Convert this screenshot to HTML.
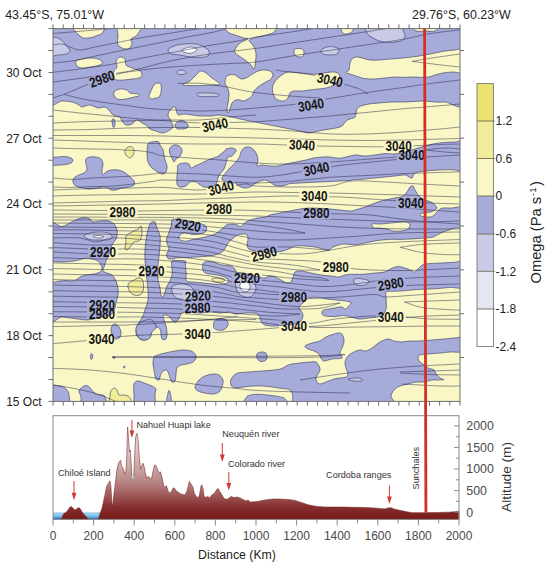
<!DOCTYPE html><html><head><meta charset="utf-8"><style>html,body{margin:0;padding:0;background:#fff;width:550px;height:566px;overflow:hidden}svg{position:absolute;left:0;top:0;font-family:"Liberation Sans",sans-serif}</style></head><body>
<svg width="550" height="566" viewBox="0 0 550 566">
<defs><clipPath id="pc"><rect x="53.0" y="28.6" width="407.0" height="372.8"/></clipPath>
<linearGradient id="tg" gradientUnits="userSpaceOnUse" x1="0" y1="425" x2="0" y2="519"><stop offset="0" stop-color="#efe6e6"/><stop offset="0.266" stop-color="#dcc6c6"/><stop offset="0.479" stop-color="#c8a2a2"/><stop offset="0.638" stop-color="#b47c7c"/><stop offset="0.766" stop-color="#9c5252"/><stop offset="0.872" stop-color="#862e2e"/><stop offset="1" stop-color="#781a1a"/></linearGradient>
<linearGradient id="wg" gradientUnits="userSpaceOnUse" x1="0" y1="512.7" x2="0" y2="519.3"><stop offset="0" stop-color="#4a86c8"/><stop offset="0.15" stop-color="#a8dcf0"/><stop offset="0.6" stop-color="#6ab6e6"/><stop offset="1" stop-color="#2e5aa8"/></linearGradient>
</defs>
<g clip-path="url(#pc)">
<rect x="53" y="28.6" width="407" height="372.79999999999995" fill="#faf7c6"/>
<path d="M45.0,20.6 C115.5,7.4 397.5,7.2 468.0,20.6 C538.5,34.0 471.8,87.4 468.0,101.0 C464.2,114.6 450.5,101.8 445.0,102.0 C439.5,102.2 438.3,102.2 435.0,102.0 C431.7,101.8 428.3,101.1 425.0,101.0 C421.7,100.9 418.7,101.2 415.0,101.4 C411.3,101.6 407.0,101.9 403.0,102.0 C399.0,102.1 395.0,101.8 391.0,102.0 C387.0,102.2 382.7,102.7 379.0,103.0 C375.3,103.3 372.0,103.5 369.0,104.0 C366.0,104.5 363.0,105.2 361.0,106.0 C359.0,106.8 358.0,107.2 357.0,109.0 C356.0,110.8 356.2,115.3 355.0,117.0 C353.8,118.7 351.5,118.3 350.0,119.0 C348.5,119.7 347.3,119.8 346.0,121.0 C344.7,122.2 343.7,124.8 342.0,126.0 C340.3,127.2 339.0,127.3 336.0,128.0 C333.0,128.7 327.7,129.3 324.0,130.0 C320.3,130.7 316.7,131.5 314.0,132.0 C311.3,132.5 310.3,133.2 308.0,133.0 C305.7,132.8 303.0,131.7 300.0,131.0 C297.0,130.3 293.3,129.7 290.0,129.0 C286.7,128.3 283.3,127.7 280.0,127.0 C276.7,126.3 273.3,125.7 270.0,125.0 C266.7,124.3 263.3,123.7 260.0,123.0 C256.7,122.3 253.3,121.7 250.0,121.0 C246.7,120.3 243.0,119.7 240.0,119.0 C237.0,118.3 234.3,117.5 232.0,117.0 C229.7,116.5 228.3,116.3 226.0,116.0 C223.7,115.7 220.3,115.0 218.0,115.0 C215.7,115.0 214.0,115.8 212.0,116.0 C210.0,116.2 208.0,116.0 206.0,116.0 C204.0,116.0 202.3,116.2 200.0,116.0 C197.7,115.8 194.7,115.3 192.0,115.0 C189.3,114.7 186.2,114.0 184.0,114.0 C181.8,114.0 180.2,115.2 179.0,115.0 C177.8,114.8 177.7,114.3 177.0,113.0 C176.3,111.7 176.0,107.7 175.0,107.0 C174.0,106.3 172.2,107.7 171.0,109.0 C169.8,110.3 168.0,113.0 168.0,115.0 C168.0,117.0 170.2,119.0 171.0,121.0 C171.8,123.0 173.5,125.3 173.0,127.0 C172.5,128.7 169.8,130.0 168.0,131.0 C166.2,132.0 164.0,133.0 162.0,133.0 C160.0,133.0 158.0,131.7 156.0,131.0 C154.0,130.3 151.7,130.0 150.0,129.0 C148.3,128.0 147.3,126.0 146.0,125.0 C144.7,124.0 143.3,123.8 142.0,123.0 C140.7,122.2 139.2,120.3 138.0,120.0 C136.8,119.7 136.0,120.3 135.0,121.0 C134.0,121.7 133.5,123.3 132.0,124.0 C130.5,124.7 127.7,125.5 126.0,125.0 C124.3,124.5 123.0,122.3 122.0,121.0 C121.0,119.7 121.0,117.8 120.0,117.0 C119.0,116.2 117.3,116.5 116.0,116.0 C114.7,115.5 113.3,115.2 112.0,114.0 C110.7,112.8 109.3,110.2 108.0,109.0 C106.7,107.8 105.7,107.2 104.0,107.0 C102.3,106.8 100.3,108.3 98.0,108.0 C95.7,107.7 92.7,105.2 90.0,105.0 C87.3,104.8 83.8,107.0 82.0,107.0 C80.2,107.0 80.7,105.8 79.0,105.0 C77.3,104.2 74.8,102.7 72.0,102.0 C69.2,101.3 66.5,101.3 62.0,101.0 C57.5,100.7 47.8,113.4 45.0,100.0 C42.2,86.6 -25.5,33.8 45.0,20.6Z" fill="#a7abd9" stroke="#3a3c66" stroke-width="0.85" stroke-opacity="0.75"/>
<path d="M175.0,125.0 C175.3,123.7 177.5,121.7 179.0,121.0 C180.5,120.3 182.5,120.3 184.0,121.0 C185.5,121.7 187.5,123.8 188.0,125.0 C188.5,126.2 188.0,127.3 187.0,128.0 C186.0,128.7 183.7,128.9 182.0,129.0 C180.3,129.1 178.2,129.3 177.0,128.6 C175.8,127.9 174.7,126.3 175.0,125.0Z" fill="#a7abd9" stroke="#3a3c66" stroke-width="0.85" stroke-opacity="0.75"/>
<path d="M112.0,120.0 C112.3,119.2 113.5,118.5 114.0,119.0 C114.5,119.5 114.9,121.7 115.0,123.0 C115.1,124.3 114.7,126.3 114.4,127.0 C114.1,127.7 113.3,127.5 113.0,127.0 C112.7,126.5 112.6,125.2 112.4,124.0 C112.2,122.8 111.7,120.8 112.0,120.0Z" fill="#a7abd9" stroke="#3a3c66" stroke-width="0.85" stroke-opacity="0.75"/>
<path d="M45.0,158.0 C47.2,156.7 54.8,157.3 58.0,157.0 C61.2,156.7 62.0,156.3 64.0,156.4 C66.0,156.5 68.5,157.0 70.0,157.6 C71.5,158.2 72.8,159.1 73.0,160.0 C73.2,160.9 72.2,162.3 71.0,163.0 C69.8,163.7 67.8,164.1 66.0,164.4 C64.2,164.7 63.5,164.9 60.0,165.0 C56.5,165.1 47.5,166.2 45.0,165.0 C42.5,163.8 42.8,159.3 45.0,158.0Z" fill="#a7abd9" stroke="#3a3c66" stroke-width="0.85" stroke-opacity="0.75"/>
<path d="M86.0,159.0 C86.7,157.8 88.3,157.3 90.0,157.0 C91.7,156.7 94.2,156.7 96.0,157.0 C97.8,157.3 99.8,157.8 101.0,159.0 C102.2,160.2 102.8,162.2 103.0,164.0 C103.2,165.8 102.0,168.2 102.0,170.0 C102.0,171.8 102.3,174.7 103.0,175.0 C103.7,175.3 104.7,172.8 106.0,172.0 C107.3,171.2 109.0,170.3 111.0,170.0 C113.0,169.7 115.8,169.7 118.0,170.0 C120.2,170.3 122.2,171.0 124.0,172.0 C125.8,173.0 127.3,174.5 129.0,176.0 C130.7,177.5 133.2,179.5 134.0,181.0 C134.8,182.5 134.8,184.0 134.0,185.0 C133.2,186.0 131.0,186.5 129.0,187.0 C127.0,187.5 124.2,187.5 122.0,188.0 C119.8,188.5 117.8,189.7 116.0,190.0 C114.2,190.3 112.3,190.3 111.0,190.0 C109.7,189.7 109.2,188.5 108.0,188.0 C106.8,187.5 105.7,187.0 104.0,187.0 C102.3,187.0 100.3,187.7 98.0,188.0 C95.7,188.3 92.5,189.0 90.0,189.0 C87.5,189.0 85.3,188.5 83.0,188.0 C80.7,187.5 77.7,187.0 76.0,186.0 C74.3,185.0 73.3,183.3 73.0,182.0 C72.7,180.7 73.0,179.2 74.0,178.0 C75.0,176.8 77.3,175.8 79.0,175.0 C80.7,174.2 82.7,174.0 84.0,173.0 C85.3,172.0 86.7,170.5 87.0,169.0 C87.3,167.5 86.2,165.7 86.0,164.0 C85.8,162.3 85.3,160.2 86.0,159.0Z" fill="#a7abd9" stroke="#3a3c66" stroke-width="0.85" stroke-opacity="0.75"/>
<path d="M148.0,144.0 C148.8,142.0 150.3,142.4 152.0,142.0 C153.7,141.6 156.7,141.1 158.0,141.6 C159.3,142.1 159.2,143.6 160.0,145.0 C160.8,146.4 162.2,147.5 163.0,150.0 C163.8,152.5 164.3,157.3 165.0,160.0 C165.7,162.7 166.8,164.0 167.0,166.0 C167.2,168.0 166.8,170.7 166.0,172.0 C165.2,173.3 163.7,174.2 162.0,174.0 C160.3,173.8 157.8,172.2 156.0,171.0 C154.2,169.8 152.3,168.5 151.0,167.0 C149.7,165.5 148.7,164.2 148.0,162.0 C147.3,159.8 147.0,157.0 147.0,154.0 C147.0,151.0 147.2,146.0 148.0,144.0Z" fill="#a7abd9" stroke="#3a3c66" stroke-width="0.85" stroke-opacity="0.75"/>
<path d="M170.0,148.0 C170.7,146.7 172.5,145.3 174.0,145.0 C175.5,144.7 177.7,145.2 179.0,146.0 C180.3,146.8 181.8,148.3 182.0,150.0 C182.2,151.7 181.0,154.5 180.0,156.0 C179.0,157.5 177.0,158.0 176.0,159.0 C175.0,160.0 174.7,162.2 174.0,162.0 C173.3,161.8 172.7,159.5 172.0,158.0 C171.3,156.5 169.9,154.7 169.6,153.0 C169.3,151.3 169.3,149.3 170.0,148.0Z" fill="#a7abd9" stroke="#3a3c66" stroke-width="0.85" stroke-opacity="0.75"/>
<path d="M178.0,165.0 C179.1,163.8 182.2,163.2 184.0,163.0 C185.8,162.8 187.8,163.2 189.0,164.0 C190.2,164.8 190.0,167.7 191.0,168.0 C192.0,168.3 193.2,166.8 195.0,166.0 C196.8,165.2 199.5,164.2 202.0,163.0 C204.5,161.8 207.5,160.0 210.0,159.0 C212.5,158.0 215.0,158.0 217.0,157.0 C219.0,156.0 220.5,154.2 222.0,153.0 C223.5,151.8 225.3,150.7 226.0,150.0 C226.7,149.3 225.2,149.3 226.0,149.0 C226.8,148.7 229.5,148.0 231.0,148.0 C232.5,148.0 234.2,148.5 235.0,149.0 C235.8,149.5 236.5,149.8 236.0,151.0 C235.5,152.2 233.3,155.0 232.0,156.0 C230.7,157.0 229.0,155.8 228.0,157.0 C227.0,158.2 226.7,161.0 226.0,163.0 C225.3,165.0 225.0,167.2 224.0,169.0 C223.0,170.8 221.0,172.5 220.0,174.0 C219.0,175.5 218.7,176.3 218.0,178.0 C217.3,179.7 217.3,182.5 216.0,184.0 C214.7,185.5 212.0,186.5 210.0,187.0 C208.0,187.5 205.8,187.5 204.0,187.0 C202.2,186.5 200.3,184.8 199.0,184.0 C197.7,183.2 197.5,182.3 196.0,182.0 C194.5,181.7 191.7,181.3 190.0,182.0 C188.3,182.7 187.7,185.2 186.0,186.0 C184.3,186.8 181.5,187.3 180.0,187.0 C178.5,186.7 177.5,185.8 177.0,184.0 C176.5,182.2 176.9,178.3 177.0,176.0 C177.1,173.7 177.4,171.8 177.6,170.0 C177.8,168.2 176.9,166.2 178.0,165.0Z" fill="#a7abd9" stroke="#3a3c66" stroke-width="0.85" stroke-opacity="0.75"/>
<path d="M222.0,178.0 C222.7,176.2 226.0,172.3 228.0,170.0 C230.0,167.7 232.2,166.0 234.0,164.0 C235.8,162.0 237.8,160.0 239.0,158.0 C240.2,156.0 240.2,153.7 241.0,152.0 C241.8,150.3 242.7,148.8 244.0,148.0 C245.3,147.2 247.3,146.7 249.0,147.0 C250.7,147.3 252.7,148.7 254.0,150.0 C255.3,151.3 256.3,153.3 257.0,155.0 C257.7,156.7 258.0,158.2 258.0,160.0 C258.0,161.8 256.3,165.2 257.0,166.0 C257.7,166.8 259.8,165.0 262.0,165.0 C264.2,165.0 267.3,165.8 270.0,166.0 C272.7,166.2 275.3,166.3 278.0,166.0 C280.7,165.7 283.0,164.7 286.0,164.0 C289.0,163.3 292.7,162.7 296.0,162.0 C299.3,161.3 303.0,160.7 306.0,160.0 C309.0,159.3 311.3,158.5 314.0,158.0 C316.7,157.5 319.3,157.2 322.0,157.0 C324.7,156.8 327.7,156.8 330.0,157.0 C332.3,157.2 334.0,157.8 336.0,158.0 C338.0,158.2 339.7,158.3 342.0,158.0 C344.3,157.7 347.7,156.5 350.0,156.0 C352.3,155.5 353.5,155.0 356.0,155.0 C358.5,155.0 361.8,156.0 365.0,156.0 C368.2,156.0 371.7,155.4 375.0,155.0 C378.3,154.6 381.7,153.8 385.0,153.6 C388.3,153.4 391.7,154.3 395.0,154.0 C398.3,153.7 401.7,152.8 405.0,152.0 C408.3,151.2 411.7,150.0 415.0,149.0 C418.3,148.0 421.7,146.9 425.0,146.0 C428.3,145.1 431.7,144.2 435.0,143.6 C438.3,143.0 441.7,142.7 445.0,142.4 C448.3,142.1 451.2,142.1 455.0,142.0 C458.8,141.9 465.8,137.1 468.0,141.6 C470.2,146.1 470.8,164.3 468.0,169.0 C465.2,173.7 455.8,169.4 451.0,169.6 C446.2,169.8 443.3,169.8 439.0,170.0 C434.7,170.2 429.0,170.5 425.0,171.0 C421.0,171.5 417.2,171.8 415.0,173.0 C412.8,174.2 413.0,177.3 412.0,178.0 C411.0,178.7 410.2,177.5 409.0,177.0 C407.8,176.5 407.3,175.2 405.0,175.0 C402.7,174.8 398.3,175.7 395.0,176.0 C391.7,176.3 388.3,176.7 385.0,177.0 C381.7,177.3 378.3,177.7 375.0,178.0 C371.7,178.3 368.3,178.7 365.0,179.0 C361.7,179.3 357.5,179.4 355.0,179.6 C352.5,179.8 352.5,180.2 350.0,180.4 C347.5,180.6 343.3,180.8 340.0,181.0 C336.7,181.2 333.3,181.4 330.0,181.6 C326.7,181.8 323.3,181.9 320.0,182.0 C316.7,182.1 313.3,182.2 310.0,182.4 C306.7,182.6 303.3,182.8 300.0,183.0 C296.7,183.2 292.3,183.3 290.0,183.6 C287.7,183.9 287.7,184.6 286.0,185.0 C284.3,185.4 282.0,186.0 280.0,186.0 C278.0,186.0 275.7,185.7 274.0,185.0 C272.3,184.3 271.7,182.8 270.0,182.0 C268.3,181.2 266.3,179.8 264.0,180.0 C261.7,180.2 258.3,181.8 256.0,183.0 C253.7,184.2 252.0,186.2 250.0,187.0 C248.0,187.8 245.8,188.2 244.0,188.0 C242.2,187.8 240.5,186.8 239.0,186.0 C237.5,185.2 236.3,183.5 235.0,183.0 C233.7,182.5 232.8,183.3 231.0,183.0 C229.2,182.7 225.5,181.8 224.0,181.0 C222.5,180.2 221.3,179.8 222.0,178.0Z" fill="#a7abd9" stroke="#3a3c66" stroke-width="0.85" stroke-opacity="0.75"/>
<path d="M45.0,228.5 C47.8,213.6 57.8,227.4 62.0,226.5 C66.2,225.6 67.3,224.2 70.0,223.0 C72.7,221.8 75.5,219.9 78.0,219.0 C80.5,218.1 83.0,217.6 85.0,217.6 C87.0,217.6 88.7,218.3 90.0,219.0 C91.3,219.7 91.3,221.7 93.0,222.0 C94.7,222.3 97.5,221.2 100.0,221.0 C102.5,220.8 105.7,220.5 108.0,221.0 C110.3,221.5 112.5,222.5 114.0,224.0 C115.5,225.5 116.5,228.2 117.0,230.0 C117.5,231.8 117.2,233.5 117.0,235.0 C116.8,236.5 116.8,237.3 116.0,239.0 C115.2,240.7 113.0,243.0 112.0,245.0 C111.0,247.0 110.7,249.0 110.0,251.0 C109.3,253.0 108.7,255.3 108.0,257.0 C107.3,258.7 106.7,259.3 106.0,261.0 C105.3,262.7 104.5,265.3 104.0,267.0 C103.5,268.7 102.5,270.0 103.0,271.0 C103.5,272.0 105.5,272.3 107.0,273.0 C108.5,273.7 110.5,273.7 112.0,275.0 C113.5,276.3 115.0,278.7 116.0,281.0 C117.0,283.3 117.7,286.7 118.0,289.0 C118.3,291.3 118.3,292.7 118.0,295.0 C117.7,297.3 116.7,300.3 116.0,303.0 C115.3,305.7 115.0,309.0 114.0,311.0 C113.0,313.0 112.0,314.0 110.0,315.0 C108.0,316.0 104.7,316.3 102.0,317.0 C99.3,317.7 96.7,318.5 94.0,319.0 C91.3,319.5 88.7,320.0 86.0,320.0 C83.3,320.0 80.7,319.3 78.0,319.0 C75.3,318.7 72.7,318.3 70.0,318.0 C67.3,317.7 66.2,317.3 62.0,317.0 C57.8,316.7 47.8,330.8 45.0,316.0 C42.2,301.2 42.2,243.4 45.0,228.5Z" fill="#a7abd9" stroke="#3a3c66" stroke-width="0.85" stroke-opacity="0.75"/>
<path d="M171.5,221.5 C172.0,220.5 172.5,219.2 174.7,219.0 C176.9,218.8 180.9,219.4 184.5,220.0 C188.1,220.6 192.8,221.6 196.0,222.4 C199.2,223.2 202.2,223.9 204.0,224.8 C205.8,225.7 206.3,226.9 206.6,228.0 C206.9,229.1 206.7,230.4 205.8,231.4 C204.9,232.4 202.9,233.3 201.0,233.8 C199.1,234.3 196.3,234.6 194.4,234.6 C192.5,234.6 191.2,234.1 189.5,233.8 C187.8,233.5 186.0,232.9 184.5,233.0 C183.0,233.1 181.4,233.8 180.5,234.6 C179.6,235.4 178.7,237.0 178.8,238.0 C178.9,239.0 180.1,239.9 181.3,240.4 C182.5,240.9 184.3,241.3 186.2,241.2 C188.1,241.0 190.2,240.1 192.7,239.5 C195.2,238.9 198.5,238.4 201.0,237.9 C203.5,237.4 205.3,236.9 207.5,236.3 C209.7,235.8 212.1,235.4 214.0,234.6 C215.9,233.8 217.4,232.6 219.0,231.4 C220.6,230.2 222.5,228.4 223.8,227.3 C225.1,226.2 225.6,225.4 227.0,224.8 C228.4,224.2 230.3,224.0 232.0,224.0 C233.7,224.0 235.6,224.4 237.0,224.8 C238.4,225.2 239.1,226.6 240.2,226.5 C241.3,226.4 242.4,224.8 243.5,224.0 C244.6,223.2 245.6,222.2 246.7,221.5 C247.8,220.8 248.1,220.6 250.0,220.0 C251.9,219.4 255.3,218.5 258.0,218.0 C260.7,217.5 264.0,217.5 266.0,217.0 C268.0,216.5 267.7,215.7 270.0,215.0 C272.3,214.3 276.7,213.7 280.0,213.0 C283.3,212.3 286.7,211.7 290.0,211.0 C293.3,210.3 296.7,209.5 300.0,209.0 C303.3,208.5 306.7,208.1 310.0,208.0 C313.3,207.9 316.7,208.2 320.0,208.4 C323.3,208.6 326.7,208.7 330.0,209.0 C333.3,209.3 336.7,209.7 340.0,210.0 C343.3,210.3 347.5,211.0 350.0,211.0 C352.5,211.0 352.5,210.7 355.0,210.0 C357.5,209.3 361.7,208.2 365.0,207.0 C368.3,205.8 371.7,204.2 375.0,203.0 C378.3,201.8 381.7,200.8 385.0,200.0 C388.3,199.2 392.0,198.7 395.0,198.0 C398.0,197.3 401.0,197.0 403.0,196.0 C405.0,195.0 405.8,193.5 407.0,192.0 C408.2,190.5 409.0,188.0 410.0,187.0 C411.0,186.0 412.2,185.5 413.0,186.0 C413.8,186.5 414.0,188.3 415.0,190.0 C416.0,191.7 417.3,194.3 419.0,196.0 C420.7,197.7 423.0,199.0 425.0,200.0 C427.0,201.0 429.3,201.2 431.0,202.0 C432.7,202.8 434.0,204.0 435.0,205.0 C436.0,206.0 437.0,207.2 437.0,208.0 C437.0,208.8 436.0,209.3 435.0,210.0 C434.0,210.7 432.3,211.6 431.0,212.0 C429.7,212.4 428.3,212.2 427.0,212.4 C425.7,212.6 424.2,212.7 423.0,213.0 C421.8,213.3 420.3,213.5 420.0,214.0 C419.7,214.5 419.8,215.5 421.0,216.0 C422.2,216.5 425.0,217.0 427.0,217.0 C429.0,217.0 431.0,217.2 433.0,216.0 C435.0,214.8 437.3,211.3 439.0,210.0 C440.7,208.7 441.0,208.3 443.0,208.0 C445.0,207.7 446.8,208.1 451.0,208.0 C455.2,207.9 465.2,204.6 468.0,207.6 C470.8,210.6 470.2,222.6 468.0,226.0 C465.8,229.4 458.2,227.3 455.0,228.0 C451.8,228.7 451.0,229.3 449.0,230.0 C447.0,230.7 444.7,231.3 443.0,232.0 C441.3,232.7 440.3,233.3 439.0,234.0 C437.7,234.7 436.2,235.5 435.0,236.0 C433.8,236.5 434.3,236.8 432.0,237.2 C429.7,237.6 425.0,238.0 421.4,238.3 C417.8,238.6 414.1,238.8 410.5,239.0 C406.9,239.2 403.1,239.3 399.5,239.4 C395.9,239.5 392.2,239.2 388.6,239.4 C385.0,239.6 381.3,240.0 377.7,240.5 C374.1,241.0 370.4,241.9 366.8,242.6 C363.2,243.3 359.6,244.6 356.0,244.8 C352.4,245.0 347.8,244.0 345.0,244.0 C342.2,244.0 341.0,244.5 339.0,245.0 C337.0,245.5 334.7,246.2 333.0,247.0 C331.3,247.8 330.7,249.7 329.0,250.0 C327.3,250.3 325.3,249.5 323.0,249.0 C320.7,248.5 318.0,247.5 315.0,247.0 C312.0,246.5 308.3,246.2 305.0,246.0 C301.7,245.8 297.3,245.7 295.0,246.0 C292.7,246.3 293.0,247.2 291.0,248.0 C289.0,248.8 285.7,250.3 283.0,251.0 C280.3,251.7 278.0,251.8 275.0,252.0 C272.0,252.2 268.3,252.2 265.0,252.0 C261.7,251.8 257.7,251.5 255.0,251.0 C252.3,250.5 250.3,250.0 249.0,249.0 C247.7,248.0 247.2,246.7 247.0,245.0 C246.8,243.3 248.0,240.7 248.0,239.0 C248.0,237.3 247.5,235.8 247.0,235.0 C246.5,234.2 246.4,234.1 245.0,234.0 C243.6,233.9 240.5,233.9 238.6,234.6 C236.7,235.2 235.2,236.7 233.6,237.9 C231.9,239.1 230.0,240.4 228.7,242.0 C227.3,243.6 226.6,246.1 225.5,247.7 C224.4,249.3 223.6,250.7 222.2,251.8 C220.8,252.9 219.5,253.6 217.3,254.3 C215.1,255.0 211.7,255.6 209.0,256.0 C206.3,256.4 203.7,256.5 201.0,256.7 C198.3,256.9 195.4,257.0 192.7,257.2 C189.9,257.4 187.2,257.5 184.5,257.6 C181.8,257.7 178.5,257.7 176.4,257.9 C174.3,258.1 173.2,258.8 172.0,259.0 C170.8,259.2 169.8,259.2 169.0,259.0 C168.2,258.8 167.8,258.4 167.4,257.6 C167.0,256.8 166.4,255.4 166.5,254.3 C166.6,253.2 167.8,252.1 168.2,251.0 C168.6,249.9 169.1,248.8 169.0,247.7 C168.9,246.6 167.8,245.9 167.4,244.5 C167.0,243.1 166.4,241.2 166.5,239.5 C166.6,237.8 167.6,236.2 168.2,234.6 C168.8,233.0 169.2,231.3 169.8,229.7 C170.4,228.1 171.2,226.2 171.5,224.8 C171.8,223.4 171.0,222.5 171.5,221.5Z" fill="#a7abd9" stroke="#3a3c66" stroke-width="0.85" stroke-opacity="0.75"/>
<path d="M148.0,300.0 C148.5,296.7 148.2,293.3 148.0,290.0 C147.8,286.7 147.3,283.3 147.0,280.0 C146.7,276.7 146.3,273.3 146.0,270.0 C145.7,266.7 145.2,263.3 145.0,260.0 C144.8,256.7 144.8,253.3 145.0,250.0 C145.2,246.7 145.5,243.3 146.0,240.0 C146.5,236.7 147.3,232.7 148.0,230.0 C148.7,227.3 149.3,225.3 150.0,224.0 C150.7,222.7 151.2,222.3 152.0,222.0 C152.8,221.7 154.2,221.0 155.0,222.0 C155.8,223.0 156.2,225.7 157.0,228.0 C157.8,230.3 159.5,233.0 160.0,236.0 C160.5,239.0 160.2,242.7 160.0,246.0 C159.8,249.3 159.3,252.8 159.0,256.0 C158.7,259.2 158.2,262.3 158.0,265.0 C157.8,267.7 158.0,269.5 158.0,272.0 C158.0,274.5 157.7,277.3 158.0,280.0 C158.3,282.7 159.5,285.5 160.0,288.0 C160.5,290.5 160.5,293.5 161.0,295.0 C161.5,296.5 162.3,297.5 163.0,297.0 C163.7,296.5 164.3,293.8 165.0,292.0 C165.7,290.2 166.2,287.8 167.0,286.0 C167.8,284.2 169.2,282.8 170.0,281.0 C170.8,279.2 171.7,277.2 172.0,275.0 C172.3,272.8 172.0,270.3 172.0,268.0 C172.0,265.7 170.8,262.2 172.0,261.0 C173.2,259.8 176.8,260.5 179.0,260.5 C181.2,260.5 184.3,260.4 185.4,261.0 C186.5,261.6 185.3,261.8 185.4,264.0 C185.5,266.2 186.1,271.7 186.2,274.5 C186.3,277.3 185.1,279.8 186.2,281.0 C187.3,282.2 190.2,281.7 192.7,282.0 C195.2,282.3 198.3,282.4 201.0,282.7 C203.7,283.0 206.3,283.3 209.0,283.6 C211.7,283.9 214.6,284.4 217.3,284.4 C220.1,284.4 223.6,284.2 225.5,283.6 C227.4,283.0 228.7,282.0 228.7,281.0 C228.7,280.0 226.6,278.6 225.5,277.8 C224.4,277.0 224.1,276.8 222.2,276.2 C220.3,275.6 216.4,274.9 214.0,274.5 C211.6,274.1 209.3,274.2 207.5,273.7 C205.7,273.2 204.2,272.5 203.4,271.3 C202.6,270.1 202.6,267.8 202.6,266.4 C202.6,265.0 202.6,263.8 203.4,263.0 C204.2,262.2 205.7,261.6 207.5,261.5 C209.3,261.4 211.8,261.8 214.0,262.3 C216.2,262.8 218.4,264.2 220.6,264.7 C222.8,265.2 225.1,265.2 227.0,265.5 C228.9,265.8 230.6,265.7 232.0,266.4 C233.4,267.1 234.5,268.5 235.3,269.6 C236.1,270.7 235.7,272.4 237.0,273.0 C238.3,273.6 240.7,272.7 243.0,273.0 C245.3,273.3 248.3,274.3 251.0,275.0 C253.7,275.7 256.7,276.5 259.0,277.0 C261.3,277.5 263.3,278.2 265.0,278.0 C266.7,277.8 267.3,276.2 269.0,276.0 C270.7,275.8 273.0,276.3 275.0,277.0 C277.0,277.7 279.0,279.0 281.0,280.0 C283.0,281.0 285.3,282.7 287.0,283.0 C288.7,283.3 290.0,283.0 291.0,282.0 C292.0,281.0 292.3,278.7 293.0,277.0 C293.7,275.3 293.7,273.0 295.0,272.0 C296.3,271.0 298.3,270.8 301.0,271.0 C303.7,271.2 307.7,272.3 311.0,273.0 C314.3,273.7 317.7,274.5 321.0,275.0 C324.3,275.5 328.0,275.7 331.0,276.0 C334.0,276.3 336.7,277.2 339.0,277.0 C341.3,276.8 342.9,275.4 345.0,275.0 C347.1,274.6 348.6,274.4 351.5,274.3 C354.4,274.2 358.9,274.5 362.5,274.3 C366.1,274.1 369.8,273.6 373.4,273.2 C377.0,272.8 381.4,272.8 384.3,272.1 C387.2,271.4 388.6,269.7 390.8,268.8 C393.0,267.9 395.2,266.8 397.4,266.6 C399.6,266.4 401.7,267.1 403.9,267.7 C406.1,268.3 408.7,269.3 410.5,270.0 C412.3,270.7 413.4,272.5 414.8,272.1 C416.2,271.7 417.7,269.0 419.2,267.7 C420.7,266.4 421.4,265.2 423.6,264.5 C425.8,263.8 429.0,263.6 432.3,263.4 C435.6,263.1 439.6,263.2 443.2,263.0 C446.8,262.8 450.0,262.4 454.1,262.3 C458.2,262.2 465.7,258.3 468.0,262.3 C470.3,266.3 471.1,282.1 468.0,286.3 C464.9,290.5 454.6,287.0 449.7,287.4 C444.8,287.8 442.4,288.2 438.8,288.5 C435.2,288.8 431.5,288.9 427.9,289.1 C424.3,289.3 420.6,289.2 417.0,289.5 C413.4,289.8 409.7,290.3 406.1,290.6 C402.5,290.9 398.5,291.1 395.2,291.3 C391.9,291.5 388.0,290.6 386.5,291.7 C385.0,292.8 386.0,295.7 386.0,298.0 C386.0,300.3 386.5,303.3 386.4,305.5 C386.3,307.7 386.3,309.3 385.5,311.0 C384.7,312.7 383.3,314.4 381.8,315.5 C380.3,316.6 378.5,316.9 376.4,317.3 C374.3,317.7 371.7,317.7 369.0,318.0 C366.3,318.3 362.4,319.0 360.0,319.0 C357.6,319.0 356.3,318.4 354.5,318.0 C352.7,317.6 350.8,316.8 349.0,316.4 C347.2,316.0 345.7,315.5 343.6,315.5 C341.5,315.5 338.8,316.2 336.4,316.4 C334.0,316.5 331.1,316.5 329.0,316.4 C326.9,316.2 324.8,316.1 323.6,315.5 C322.4,314.9 321.8,313.6 321.8,312.7 C321.8,311.8 322.4,310.6 323.6,310.0 C324.8,309.4 327.2,309.3 329.0,309.0 C330.8,308.7 332.8,308.3 334.5,308.0 C336.2,307.7 337.6,307.1 339.0,307.0 C340.4,306.9 341.6,307.0 342.7,307.3 C343.8,307.6 344.4,309.3 345.5,309.0 C346.6,308.7 348.1,306.6 349.0,305.5 C349.9,304.4 351.6,303.4 351.0,302.7 C350.4,301.9 348.0,301.4 345.5,301.0 C343.0,300.6 339.1,300.3 336.0,300.0 C332.9,299.7 330.0,299.4 327.0,299.0 C324.0,298.6 321.0,297.5 318.0,297.3 C315.0,297.1 311.5,297.1 309.0,298.0 C306.5,298.9 304.7,301.5 303.0,303.0 C301.3,304.5 299.3,305.7 299.0,307.0 C298.7,308.3 300.3,309.7 301.0,311.0 C301.7,312.3 303.0,313.3 303.0,315.0 C303.0,316.7 302.3,319.5 301.0,321.0 C299.7,322.5 297.7,323.3 295.0,324.0 C292.3,324.7 288.3,324.7 285.0,325.0 C281.7,325.3 278.3,326.0 275.0,326.0 C271.7,326.0 267.3,325.8 265.0,325.0 C262.7,324.2 262.0,322.7 261.0,321.0 C260.0,319.3 260.3,316.3 259.0,315.0 C257.7,313.7 255.3,313.3 253.0,313.0 C250.7,312.7 248.0,312.8 245.0,313.0 C242.0,313.2 237.5,314.2 235.0,314.0 C232.5,313.8 232.5,312.2 230.0,312.0 C227.5,311.8 223.3,313.0 220.0,313.0 C216.7,313.0 213.3,312.0 210.0,312.0 C206.7,312.0 203.7,313.0 200.0,313.0 C196.3,313.0 191.0,312.0 188.0,312.0 C185.0,312.0 183.3,312.3 182.0,313.0 C180.7,313.7 180.7,314.8 180.0,316.0 C179.3,317.2 178.8,319.0 178.0,320.0 C177.2,321.0 176.0,322.0 175.0,322.0 C174.0,322.0 172.8,320.8 172.0,320.0 C171.2,319.2 171.0,317.8 170.0,317.0 C169.0,316.2 167.2,315.2 166.0,315.0 C164.8,314.8 163.3,315.2 163.0,316.0 C162.7,316.8 163.5,318.3 164.0,320.0 C164.5,321.7 165.5,323.8 166.0,326.0 C166.5,328.2 167.0,330.8 167.0,333.0 C167.0,335.2 166.8,338.0 166.0,339.0 C165.2,340.0 162.8,339.8 162.0,339.0 C161.2,338.2 161.3,335.7 161.0,334.0 C160.7,332.3 160.8,330.2 160.0,329.0 C159.2,327.8 157.3,327.0 156.0,327.0 C154.7,327.0 152.8,327.8 152.0,329.0 C151.2,330.2 151.7,332.3 151.0,334.0 C150.3,335.7 149.5,338.0 148.0,339.0 C146.5,340.0 143.8,340.5 142.0,340.0 C140.2,339.5 138.0,337.7 137.0,336.0 C136.0,334.3 135.8,332.0 136.0,330.0 C136.2,328.0 137.0,326.0 138.0,324.0 C139.0,322.0 140.8,320.3 142.0,318.0 C143.2,315.7 144.0,313.0 145.0,310.0 C146.0,307.0 147.5,303.3 148.0,300.0Z" fill="#a7abd9" stroke="#3a3c66" stroke-width="0.85" stroke-opacity="0.75"/>
<path d="M214.0,322.0 C214.7,320.5 216.3,319.5 218.0,319.0 C219.7,318.5 222.3,318.5 224.0,319.0 C225.7,319.5 227.5,320.7 228.0,322.0 C228.5,323.3 227.8,325.7 227.0,327.0 C226.2,328.3 224.5,329.5 223.0,330.0 C221.5,330.5 219.5,330.3 218.0,330.0 C216.5,329.7 214.7,329.3 214.0,328.0 C213.3,326.7 213.3,323.5 214.0,322.0Z" fill="#a7abd9" stroke="#3a3c66" stroke-width="0.85" stroke-opacity="0.75"/>
<path d="M112.0,326.0 C112.7,324.8 113.8,323.8 115.0,324.0 C116.2,324.2 118.0,325.7 119.0,327.0 C120.0,328.3 120.8,330.3 121.0,332.0 C121.2,333.7 120.8,335.8 120.0,337.0 C119.2,338.2 117.2,339.2 116.0,339.0 C114.8,338.8 113.8,337.3 113.0,336.0 C112.2,334.7 111.2,332.7 111.0,331.0 C110.8,329.3 111.3,327.2 112.0,326.0Z" fill="#a7abd9" stroke="#3a3c66" stroke-width="0.85" stroke-opacity="0.75"/>
<path d="M136.0,328.0 C136.3,325.7 138.3,324.3 140.0,323.0 C141.7,321.7 144.0,320.5 146.0,320.0 C148.0,319.5 150.5,319.3 152.0,320.0 C153.5,320.7 154.3,322.7 155.0,324.0 C155.7,325.3 156.5,326.7 156.0,328.0 C155.5,329.3 153.0,330.3 152.0,332.0 C151.0,333.7 151.3,336.7 150.0,338.0 C148.7,339.3 146.0,340.2 144.0,340.0 C142.0,339.8 139.3,339.0 138.0,337.0 C136.7,335.0 135.7,330.3 136.0,328.0Z" fill="#a7abd9" stroke="#3a3c66" stroke-width="0.85" stroke-opacity="0.75"/>
<path d="M90.5,356.0 C90.6,355.1 91.1,353.5 91.5,353.5 C91.9,353.5 92.7,355.1 92.8,356.0 C92.9,356.9 92.3,358.5 92.0,359.0 C91.7,359.5 91.0,359.5 90.8,359.0 C90.5,358.5 90.4,356.9 90.5,356.0Z" fill="#a7abd9" stroke="#3a3c66" stroke-width="0.85" stroke-opacity="0.75"/>
<path d="M113.0,357.5 C113.0,357.1 113.7,356.3 114.0,356.3 C114.3,356.3 115.0,357.1 115.0,357.5 C115.0,357.9 114.3,358.7 114.0,358.7 C113.7,358.7 113.0,357.9 113.0,357.5Z" fill="#a7abd9" stroke="#3a3c66" stroke-width="0.85" stroke-opacity="0.75"/>
<path d="M123.3,367.0 C123.3,366.7 124.0,366.0 124.3,366.0 C124.6,366.0 125.3,366.7 125.3,367.0 C125.3,367.3 124.6,368.0 124.3,368.0 C124.0,368.0 123.3,367.3 123.3,367.0Z" fill="#a7abd9" stroke="#3a3c66" stroke-width="0.85" stroke-opacity="0.75"/>
<path d="M45.0,387.0 C47.5,383.1 56.5,385.7 60.0,386.0 C63.5,386.3 64.5,387.5 66.0,389.0 C67.5,390.5 68.7,391.6 69.0,395.0 C69.3,398.4 72.0,407.0 68.0,409.4 C64.0,411.8 48.8,413.1 45.0,409.4 C41.2,405.7 42.5,390.9 45.0,387.0Z" fill="#a7abd9" stroke="#3a3c66" stroke-width="0.85" stroke-opacity="0.75"/>
<path d="M79.0,391.0 C79.5,389.2 82.5,386.8 84.0,386.0 C85.5,385.2 86.8,385.5 88.0,386.0 C89.2,386.5 89.7,387.7 91.0,389.0 C92.3,390.3 94.2,393.0 96.0,394.0 C97.8,395.0 100.5,394.5 102.0,395.0 C103.5,395.5 104.3,394.6 105.0,397.0 C105.7,399.4 109.7,407.3 106.0,409.4 C102.3,411.5 87.2,411.5 83.0,409.4 C78.8,407.3 81.7,400.1 81.0,397.0 C80.3,393.9 78.5,392.8 79.0,391.0Z" fill="#a7abd9" stroke="#3a3c66" stroke-width="0.85" stroke-opacity="0.75"/>
<path d="M134.0,384.0 C134.7,381.8 136.3,381.2 138.0,381.0 C139.7,380.8 141.7,382.2 144.0,383.0 C146.3,383.8 150.0,385.0 152.0,386.0 C154.0,387.0 155.5,387.7 156.0,389.0 C156.5,390.3 155.3,390.6 155.0,394.0 C154.7,397.4 157.2,406.8 154.0,409.4 C150.8,412.0 139.3,412.0 136.0,409.4 C132.7,406.8 134.3,398.2 134.0,394.0 C133.7,389.8 133.3,386.2 134.0,384.0Z" fill="#a7abd9" stroke="#3a3c66" stroke-width="0.85" stroke-opacity="0.75"/>
<path d="M153.0,364.0 C153.0,361.8 153.2,358.5 154.0,357.0 C154.8,355.5 156.2,355.7 158.0,355.0 C159.8,354.3 162.2,353.7 165.0,353.0 C167.8,352.3 172.0,351.5 175.0,351.0 C178.0,350.5 180.3,350.0 183.0,350.0 C185.7,350.0 189.0,350.3 191.0,351.0 C193.0,351.7 194.2,352.8 195.0,354.0 C195.8,355.2 196.3,356.7 196.0,358.0 C195.7,359.3 194.5,361.0 193.0,362.0 C191.5,363.0 189.0,363.5 187.0,364.0 C185.0,364.5 182.7,364.3 181.0,365.0 C179.3,365.7 177.8,366.5 177.0,368.0 C176.2,369.5 176.3,371.8 176.0,374.0 C175.7,376.2 175.7,379.7 175.0,381.0 C174.3,382.3 172.8,382.5 172.0,382.0 C171.2,381.5 170.7,379.7 170.0,378.0 C169.3,376.3 168.8,373.3 168.0,372.0 C167.2,370.7 166.2,369.7 165.0,370.0 C163.8,370.3 162.0,372.3 161.0,374.0 C160.0,375.7 159.8,379.2 159.0,380.0 C158.2,380.8 156.7,379.7 156.0,379.0 C155.3,378.3 155.3,377.5 155.0,376.0 C154.7,374.5 154.3,372.0 154.0,370.0 C153.7,368.0 153.0,366.2 153.0,364.0Z" fill="#a7abd9" stroke="#3a3c66" stroke-width="0.85" stroke-opacity="0.75"/>
<path d="M257.0,354.0 C257.6,352.8 259.7,352.2 261.0,352.0 C262.3,351.8 264.0,352.0 265.0,352.5 C266.0,353.0 266.8,353.8 267.0,355.0 C267.2,356.2 267.0,358.9 266.0,360.0 C265.0,361.1 262.4,361.7 261.0,361.5 C259.6,361.3 258.1,360.2 257.4,359.0 C256.7,357.8 256.4,355.2 257.0,354.0Z" fill="#a7abd9" stroke="#3a3c66" stroke-width="0.85" stroke-opacity="0.75"/>
<path d="M195.0,387.0 C195.2,385.2 197.3,381.8 199.0,380.0 C200.7,378.2 202.7,377.0 205.0,376.0 C207.3,375.0 210.7,374.2 213.0,374.0 C215.3,373.8 217.3,374.0 219.0,375.0 C220.7,376.0 222.5,378.0 223.0,380.0 C223.5,382.0 222.7,385.0 222.0,387.0 C221.3,389.0 220.5,390.8 219.0,392.0 C217.5,393.2 215.3,393.8 213.0,394.0 C210.7,394.2 207.5,393.5 205.0,393.0 C202.5,392.5 199.7,392.0 198.0,391.0 C196.3,390.0 194.8,388.8 195.0,387.0Z" fill="#a7abd9" stroke="#3a3c66" stroke-width="0.85" stroke-opacity="0.75"/>
<path d="M166.0,409.4 C165.3,406.7 167.3,395.9 168.0,393.0 C168.7,390.1 169.3,389.3 170.0,392.0 C170.7,394.7 172.7,406.5 172.0,409.4 C171.3,412.3 166.7,412.1 166.0,409.4Z" fill="#a7abd9" stroke="#3a3c66" stroke-width="0.85" stroke-opacity="0.75"/>
<path d="M305.0,346.0 C305.7,345.0 309.5,343.8 312.0,343.0 C314.5,342.2 317.7,342.0 320.0,341.0 C322.3,340.0 323.7,338.2 326.0,337.0 C328.3,335.8 331.7,334.7 334.0,334.0 C336.3,333.3 338.5,332.7 340.0,333.0 C341.5,333.3 342.3,334.5 343.0,336.0 C343.7,337.5 344.2,340.0 344.0,342.0 C343.8,344.0 342.7,346.2 342.0,348.0 C341.3,349.8 340.0,351.3 340.0,353.0 C340.0,354.7 343.3,357.0 342.0,358.0 C340.7,359.0 335.0,358.5 332.0,359.0 C329.0,359.5 325.8,361.2 324.0,361.0 C322.2,360.8 321.8,359.2 321.0,358.0 C320.2,356.8 320.2,355.2 319.0,354.0 C317.8,352.8 315.8,351.8 314.0,351.0 C312.2,350.2 309.5,349.8 308.0,349.0 C306.5,348.2 304.3,347.0 305.0,346.0Z" fill="#a7abd9" stroke="#3a3c66" stroke-width="0.85" stroke-opacity="0.75"/>
<path d="M230.6,381.2 C230.8,379.6 231.8,377.7 233.0,376.3 C234.2,374.9 235.8,373.7 238.0,373.0 C240.2,372.3 243.2,372.5 246.2,372.2 C249.2,371.9 252.2,371.7 256.0,371.4 C259.8,371.1 264.9,370.9 269.0,370.5 C273.1,370.1 277.6,369.7 280.6,368.9 C283.6,368.1 285.1,366.4 287.0,365.6 C288.9,364.8 290.1,364.4 292.0,364.0 C293.9,363.6 296.4,363.5 298.6,363.2 C300.8,362.9 303.1,362.6 305.0,362.4 C306.9,362.2 308.2,362.1 310.0,362.0 C311.8,361.9 314.5,361.3 316.0,362.0 C317.5,362.7 318.3,364.7 319.0,366.0 C319.7,367.3 320.2,368.7 320.0,370.0 C319.8,371.3 318.7,372.7 318.0,374.0 C317.3,375.3 316.2,376.7 316.0,378.0 C315.8,379.3 316.3,381.0 317.0,382.0 C317.7,383.0 318.5,384.0 320.0,384.0 C321.5,384.0 323.7,382.8 326.0,382.0 C328.3,381.2 331.7,379.7 334.0,379.0 C336.3,378.3 338.0,378.3 340.0,378.0 C342.0,377.7 344.7,377.7 346.0,377.0 C347.3,376.3 348.0,375.5 348.0,374.0 C348.0,372.5 346.5,370.0 346.0,368.0 C345.5,366.0 344.7,364.0 345.0,362.0 C345.3,360.0 346.5,357.7 348.0,356.0 C349.5,354.3 352.0,353.0 354.0,352.0 C356.0,351.0 358.0,350.2 360.0,350.0 C362.0,349.8 364.0,351.3 366.0,351.0 C368.0,350.7 369.7,349.5 372.0,348.0 C374.3,346.5 377.3,343.5 380.0,342.0 C382.7,340.5 385.7,339.2 388.0,339.0 C390.3,338.8 391.7,340.5 394.0,341.0 C396.3,341.5 399.3,342.0 402.0,342.0 C404.7,342.0 407.0,341.2 410.0,341.0 C413.0,340.8 416.3,341.2 420.0,341.0 C423.7,340.8 428.0,340.3 432.0,340.0 C436.0,339.7 440.3,339.3 444.0,339.0 C447.7,338.7 450.0,338.2 454.0,338.0 C458.0,337.8 465.7,335.8 468.0,338.0 C470.3,340.2 471.0,348.7 468.0,351.0 C465.0,353.3 454.7,351.7 450.0,352.0 C445.3,352.3 443.7,352.7 440.0,353.0 C436.3,353.3 431.3,353.7 428.0,354.0 C424.7,354.3 421.7,354.3 420.0,355.0 C418.3,355.7 418.0,356.8 418.0,358.0 C418.0,359.2 418.7,360.7 420.0,362.0 C421.3,363.3 424.7,365.0 426.0,366.0 C427.3,367.0 426.7,367.3 428.0,368.0 C429.3,368.7 432.7,369.0 434.0,370.0 C435.3,371.0 435.0,372.7 436.0,374.0 C437.0,375.3 438.7,377.1 440.0,378.0 C441.3,378.9 444.3,379.3 444.0,379.6 C443.7,379.9 440.0,379.9 438.0,380.0 C436.0,380.1 434.3,379.7 432.0,380.0 C429.7,380.3 426.7,381.7 424.0,382.0 C421.3,382.3 418.7,381.7 416.0,382.0 C413.3,382.3 410.7,383.3 408.0,384.0 C405.3,384.7 402.3,385.0 400.0,386.0 C397.7,387.0 395.5,388.3 394.0,390.0 C392.5,391.7 392.0,392.8 391.0,396.0 C390.0,399.2 404.8,407.2 388.0,409.4 C371.2,411.6 306.4,410.7 290.4,409.4 C274.4,408.1 291.6,403.6 292.0,401.6 C292.4,399.6 292.8,399.1 292.8,397.6 C292.8,396.1 292.7,394.0 292.0,392.6 C291.3,391.2 290.3,390.1 288.7,389.4 C287.1,388.7 284.9,389.0 282.2,388.6 C279.5,388.2 275.7,387.4 272.4,387.0 C269.1,386.6 265.9,386.2 262.6,386.0 C259.3,385.8 255.7,385.9 252.7,386.0 C249.7,386.1 247.2,386.6 244.5,386.9 C241.8,387.2 238.6,387.8 236.4,387.7 C234.2,387.6 232.5,387.1 231.5,386.0 C230.5,384.9 230.3,382.8 230.6,381.2Z" fill="#a7abd9" stroke="#3a3c66" stroke-width="0.85" stroke-opacity="0.75"/>
<path d="M244.5,409.4 C237.4,407.4 245.1,400.0 246.2,397.6 C247.3,395.2 249.1,395.6 251.0,395.0 C252.9,394.4 254.9,394.3 257.6,394.3 C260.4,394.3 263.9,394.6 267.5,395.0 C271.1,395.4 276.0,396.0 279.0,396.7 C282.0,397.4 283.9,397.1 285.5,399.2 C287.1,401.3 295.5,407.7 288.7,409.4 C281.9,411.1 251.6,411.4 244.5,409.4Z" fill="#a7abd9" stroke="#3a3c66" stroke-width="0.85" stroke-opacity="0.75"/>
<path d="M70.0,20.6 C66.0,23.2 77.0,33.1 80.0,36.0 C83.0,38.9 85.3,38.0 88.0,38.0 C90.7,38.0 93.5,37.0 96.0,36.0 C98.5,35.0 101.7,34.6 103.0,32.0 C104.3,29.4 109.5,22.5 104.0,20.6 C98.5,18.7 74.0,18.0 70.0,20.6Z" fill="#faf7c6" stroke="#3a3c66" stroke-width="0.85" stroke-opacity="0.75"/>
<path d="M119.0,20.6 C114.9,23.3 118.2,33.1 118.0,37.0 C117.8,40.9 116.9,42.2 117.6,44.0 C118.3,45.8 120.1,47.2 122.0,48.0 C123.9,48.8 127.3,49.4 129.0,48.6 C130.7,47.8 131.7,44.6 132.0,43.0 C132.3,41.4 130.0,40.5 131.0,39.0 C132.0,37.5 136.1,37.1 138.0,34.0 C139.9,30.9 145.6,22.8 142.4,20.6 C139.2,18.4 123.1,17.9 119.0,20.6Z" fill="#faf7c6" stroke="#3a3c66" stroke-width="0.85" stroke-opacity="0.75"/>
<path d="M76.0,61.0 C76.8,59.8 79.7,59.5 82.0,59.0 C84.3,58.5 87.3,58.0 90.0,58.0 C92.7,58.0 95.9,58.3 98.0,59.0 C100.1,59.7 102.1,61.0 102.4,62.0 C102.7,63.0 102.1,64.2 100.0,65.0 C97.9,65.8 93.0,66.5 90.0,67.0 C87.0,67.5 84.2,68.2 82.0,68.0 C79.8,67.8 78.0,67.2 77.0,66.0 C76.0,64.8 75.2,62.2 76.0,61.0Z" fill="#faf7c6" stroke="#3a3c66" stroke-width="0.85" stroke-opacity="0.75"/>
<path d="M118.0,58.0 C118.8,57.2 119.8,56.8 121.0,57.0 C122.2,57.2 124.2,57.7 125.0,59.0 C125.8,60.3 124.8,63.5 126.0,65.0 C127.2,66.5 129.7,67.0 132.0,68.0 C134.3,69.0 138.3,69.8 140.0,71.0 C141.7,72.2 142.2,73.8 142.0,75.0 C141.8,76.2 140.7,77.3 139.0,78.0 C137.3,78.7 134.5,78.7 132.0,79.0 C129.5,79.3 126.5,79.8 124.0,80.0 C121.5,80.2 118.8,80.3 117.0,80.0 C115.2,79.7 113.5,79.5 113.0,78.0 C112.5,76.5 113.3,72.8 114.0,71.0 C114.7,69.2 116.7,68.5 117.0,67.0 C117.3,65.5 115.8,63.5 116.0,62.0 C116.2,60.5 117.2,58.8 118.0,58.0Z" fill="#faf7c6" stroke="#3a3c66" stroke-width="0.85" stroke-opacity="0.75"/>
<path d="M114.0,92.0 C114.8,90.7 117.8,89.3 120.0,89.0 C122.2,88.7 125.3,89.3 127.0,90.0 C128.7,90.7 128.2,92.3 130.0,93.0 C131.8,93.7 136.5,93.5 138.0,94.0 C139.5,94.5 139.7,95.5 139.0,96.0 C138.3,96.5 136.2,96.5 134.0,97.0 C131.8,97.5 128.5,98.6 126.0,99.0 C123.5,99.4 120.8,99.7 119.0,99.4 C117.2,99.1 115.8,98.2 115.0,97.0 C114.2,95.8 113.2,93.3 114.0,92.0Z" fill="#faf7c6" stroke="#3a3c66" stroke-width="0.85" stroke-opacity="0.75"/>
<path d="M150.0,93.0 C150.8,91.0 152.7,86.7 154.0,85.0 C155.3,83.3 156.8,83.0 158.0,83.0 C159.2,83.0 160.5,83.5 161.0,85.0 C161.5,86.5 161.3,90.0 161.0,92.0 C160.7,94.0 159.8,96.0 159.0,97.0 C158.2,98.0 157.2,97.7 156.0,98.0 C154.8,98.3 153.2,99.2 152.0,99.0 C150.8,98.8 149.3,98.0 149.0,97.0 C148.7,96.0 149.2,95.0 150.0,93.0Z" fill="#faf7c6" stroke="#3a3c66" stroke-width="0.85" stroke-opacity="0.75"/>
<path d="M224.0,20.6 C215.8,22.3 225.7,28.8 227.0,31.0 C228.3,33.2 230.2,33.2 232.0,34.0 C233.8,34.8 236.0,35.3 238.0,36.0 C240.0,36.7 242.3,37.5 244.0,38.0 C245.7,38.5 248.7,38.2 248.0,39.0 C247.3,39.8 242.0,41.5 240.0,43.0 C238.0,44.5 236.9,46.5 236.0,48.0 C235.1,49.5 233.9,50.7 234.4,52.0 C234.9,53.3 237.2,54.7 239.0,56.0 C240.8,57.3 243.0,58.5 245.0,60.0 C247.0,61.5 249.5,63.5 251.0,65.0 C252.5,66.5 253.2,69.7 254.0,69.0 C254.8,68.3 255.3,63.7 255.6,61.0 C255.9,58.3 256.3,55.3 256.0,53.0 C255.7,50.7 254.8,48.7 254.0,47.0 C253.2,45.3 251.8,44.2 251.0,43.0 C250.2,41.8 248.5,40.8 249.0,40.0 C249.5,39.2 251.8,38.7 254.0,38.0 C256.2,37.3 259.3,36.7 262.0,36.0 C264.7,35.3 267.8,34.8 270.0,34.0 C272.2,33.2 274.0,33.2 275.0,31.0 C276.0,28.8 284.5,22.3 276.0,20.6 C267.5,18.9 232.2,18.9 224.0,20.6Z" fill="#faf7c6" stroke="#3a3c66" stroke-width="0.85" stroke-opacity="0.75"/>
<path d="M183.0,85.0 C182.3,84.2 187.8,82.7 190.0,81.0 C192.2,79.3 194.2,76.7 196.0,75.0 C197.8,73.3 199.3,71.3 201.0,71.0 C202.7,70.7 204.2,71.8 206.0,73.0 C207.8,74.2 209.7,76.2 212.0,78.0 C214.3,79.8 219.7,82.8 220.0,84.0 C220.3,85.2 216.7,84.8 214.0,85.0 C211.3,85.2 207.3,85.3 204.0,85.4 C200.7,85.5 197.5,85.7 194.0,85.6 C190.5,85.5 183.7,85.8 183.0,85.0Z" fill="#faf7c6" stroke="#3a3c66" stroke-width="0.85" stroke-opacity="0.75"/>
<path d="M226.0,77.0 C226.6,76.3 227.7,75.4 229.0,75.0 C230.3,74.6 232.5,74.3 234.0,74.6 C235.5,74.9 236.7,76.3 238.0,77.0 C239.3,77.7 240.3,79.0 242.0,79.0 C243.7,79.0 246.0,78.0 248.0,77.0 C250.0,76.0 251.7,74.2 254.0,73.0 C256.3,71.8 259.3,70.3 262.0,70.0 C264.7,69.7 268.2,70.2 270.0,71.0 C271.8,71.8 272.8,73.7 273.0,75.0 C273.2,76.3 271.5,77.8 271.0,78.6 C270.5,79.4 271.2,79.3 270.0,80.0 C268.8,80.7 266.0,81.8 264.0,83.0 C262.0,84.2 259.7,85.7 258.0,87.0 C256.3,88.3 255.0,89.5 254.0,91.0 C253.0,92.5 253.0,94.7 252.0,96.0 C251.0,97.3 249.3,98.2 248.0,99.0 C246.7,99.8 245.3,100.8 244.0,101.0 C242.7,101.2 241.3,100.2 240.0,100.0 C238.7,99.8 237.3,99.5 236.0,100.0 C234.7,100.5 233.0,101.5 232.0,103.0 C231.0,104.5 230.7,107.3 230.0,109.0 C229.3,110.7 228.5,113.0 228.0,113.0 C227.5,113.0 227.0,110.7 227.0,109.0 C227.0,107.3 227.7,105.3 228.0,103.0 C228.3,100.7 229.0,97.3 229.0,95.0 C229.0,92.7 228.7,91.0 228.0,89.0 C227.3,87.0 225.4,84.7 225.0,83.0 C224.6,81.3 225.4,80.0 225.6,79.0 C225.8,78.0 225.4,77.7 226.0,77.0Z" fill="#faf7c6" stroke="#3a3c66" stroke-width="0.85" stroke-opacity="0.75"/>
<path d="M340.0,20.6 C338.1,22.5 341.0,29.8 342.0,32.0 C343.0,34.2 344.7,33.8 346.0,34.0 C347.3,34.2 348.8,33.7 350.0,33.0 C351.2,32.3 352.4,32.1 353.0,30.0 C353.6,27.9 355.8,22.2 353.6,20.6 C351.4,19.0 341.9,18.7 340.0,20.6Z" fill="#faf7c6" stroke="#3a3c66" stroke-width="0.85" stroke-opacity="0.75"/>
<path d="M294.0,50.0 C294.3,48.9 295.7,48.8 297.0,48.6 C298.3,48.4 300.8,48.4 302.0,49.0 C303.2,49.6 303.8,50.8 304.0,52.0 C304.2,53.2 303.8,55.2 303.0,56.0 C302.2,56.8 300.3,57.2 299.0,57.0 C297.7,56.8 295.8,56.2 295.0,55.0 C294.2,53.8 293.7,51.1 294.0,50.0Z" fill="#faf7c6" stroke="#3a3c66" stroke-width="0.85" stroke-opacity="0.75"/>
<path d="M285.0,73.0 C286.3,72.5 287.5,72.0 290.0,72.0 C292.5,72.0 296.7,72.7 300.0,73.0 C303.3,73.3 307.0,73.8 310.0,74.0 C313.0,74.2 315.3,74.2 318.0,74.0 C320.7,73.8 323.3,72.9 326.0,72.6 C328.7,72.3 331.8,71.8 334.0,72.0 C336.2,72.2 338.2,72.8 339.0,74.0 C339.8,75.2 339.8,77.2 339.0,79.0 C338.2,80.8 336.2,83.5 334.0,85.0 C331.8,86.5 328.7,87.3 326.0,88.0 C323.3,88.7 320.7,88.7 318.0,89.0 C315.3,89.3 312.7,89.7 310.0,90.0 C307.3,90.3 304.7,90.8 302.0,91.0 C299.3,91.2 296.0,90.7 294.0,91.0 C292.0,91.3 291.0,91.8 290.0,93.0 C289.0,94.2 289.0,96.7 288.0,98.0 C287.0,99.3 285.7,100.7 284.0,101.0 C282.3,101.3 279.7,100.8 278.0,100.0 C276.3,99.2 274.9,97.8 274.0,96.0 C273.1,94.2 272.4,91.2 272.4,89.0 C272.4,86.8 273.1,84.8 274.0,83.0 C274.9,81.2 276.7,79.3 278.0,78.0 C279.3,76.7 280.8,75.8 282.0,75.0 C283.2,74.2 283.7,73.5 285.0,73.0Z" fill="#faf7c6" stroke="#3a3c66" stroke-width="0.85" stroke-opacity="0.75"/>
<path d="M346.0,72.0 C346.3,71.5 348.3,71.5 349.0,70.0 C349.7,68.5 349.5,64.8 350.0,63.0 C350.5,61.2 351.0,60.0 352.0,59.0 C353.0,58.0 354.3,57.2 356.0,57.0 C357.7,56.8 359.7,57.5 362.0,58.0 C364.3,58.5 367.2,59.7 370.0,60.0 C372.8,60.3 375.5,60.2 379.0,60.0 C382.5,59.8 387.0,59.3 391.0,59.0 C395.0,58.7 399.0,58.4 403.0,58.0 C407.0,57.6 411.3,57.1 415.0,56.6 C418.7,56.1 421.7,55.6 425.0,55.0 C428.3,54.4 431.7,53.7 435.0,53.0 C438.3,52.3 441.7,51.5 445.0,51.0 C448.3,50.5 451.2,50.3 455.0,50.0 C458.8,49.7 465.8,45.7 468.0,49.4 C470.2,53.1 470.5,68.2 468.0,72.0 C465.5,75.8 457.2,71.8 453.0,72.0 C448.8,72.2 446.0,72.5 443.0,73.0 C440.0,73.5 437.3,74.3 435.0,75.0 C432.7,75.7 431.3,76.6 429.0,77.0 C426.7,77.4 423.7,77.4 421.0,77.4 C418.3,77.4 416.0,77.0 413.0,77.0 C410.0,77.0 406.0,77.4 403.0,77.4 C400.0,77.4 398.0,76.9 395.0,77.0 C392.0,77.1 388.3,77.7 385.0,78.0 C381.7,78.3 378.3,78.9 375.0,79.0 C371.7,79.1 367.7,78.9 365.0,78.6 C362.3,78.3 361.5,77.8 359.0,77.0 C356.5,76.2 352.0,74.7 350.0,74.0 C348.0,73.3 347.7,73.3 347.0,73.0 C346.3,72.7 345.7,72.5 346.0,72.0Z" fill="#faf7c6" stroke="#3a3c66" stroke-width="0.85" stroke-opacity="0.75"/>
<path d="M413.0,20.6 C416.7,19.0 433.2,19.0 437.0,20.6 C440.8,22.2 438.0,28.8 436.0,30.5 C434.0,32.2 428.5,31.0 425.0,31.0 C421.5,31.0 417.0,32.2 415.0,30.5 C413.0,28.8 409.3,22.2 413.0,20.6Z" fill="#faf7c6" stroke="#3a3c66" stroke-width="0.85" stroke-opacity="0.75"/>
<path d="M45.0,263.0 C47.8,259.7 57.2,262.3 62.0,262.0 C66.8,261.7 70.7,261.5 74.0,261.0 C77.3,260.5 79.7,259.5 82.0,259.0 C84.3,258.5 86.3,258.0 88.0,258.0 C89.7,258.0 90.3,258.5 92.0,259.0 C93.7,259.5 96.5,260.0 98.0,261.0 C99.5,262.0 100.3,263.7 101.0,265.0 C101.7,266.3 102.2,267.8 102.0,269.0 C101.8,270.2 101.3,271.2 100.0,272.0 C98.7,272.8 96.3,273.5 94.0,274.0 C91.7,274.5 88.3,274.5 86.0,275.0 C83.7,275.5 81.7,276.2 80.0,277.0 C78.3,277.8 77.3,279.3 76.0,280.0 C74.7,280.7 73.7,280.9 72.0,281.0 C70.3,281.1 68.0,280.6 66.0,280.6 C64.0,280.6 63.5,280.8 60.0,281.0 C56.5,281.2 47.5,285.0 45.0,282.0 C42.5,279.0 42.2,266.3 45.0,263.0Z" fill="#faf7c6" stroke="#3a3c66" stroke-width="0.85" stroke-opacity="0.75"/>
<path d="M372.0,224.0 C373.2,223.3 377.8,224.2 381.0,224.0 C384.2,223.8 387.7,223.3 391.0,223.0 C394.3,222.7 398.2,222.1 401.0,222.0 C403.8,221.9 406.5,221.9 408.0,222.4 C409.5,222.9 410.0,223.9 410.0,225.0 C410.0,226.1 409.5,228.0 408.0,229.0 C406.5,230.0 403.5,230.7 401.0,231.0 C398.5,231.3 395.3,231.3 393.0,231.0 C390.7,230.7 389.3,229.5 387.0,229.0 C384.7,228.5 381.2,228.2 379.0,228.0 C376.8,227.8 375.2,228.7 374.0,228.0 C372.8,227.3 370.8,224.7 372.0,224.0Z" fill="#faf7c6" stroke="#3a3c66" stroke-width="0.85" stroke-opacity="0.75"/>
<path d="M45.0,38.0 C47.2,35.0 54.7,37.0 58.0,38.0 C61.3,39.0 63.0,41.8 65.0,44.0 C67.0,46.2 69.8,49.3 70.0,51.0 C70.2,52.7 68.0,53.3 66.0,54.0 C64.0,54.7 61.5,54.7 58.0,55.0 C54.5,55.3 47.2,58.8 45.0,56.0 C42.8,53.2 42.8,41.0 45.0,38.0Z" fill="#c9cbe6" stroke="#3a3c66" stroke-width="0.85" stroke-opacity="0.75"/>
<path d="M168.0,50.0 C168.5,48.7 171.3,47.0 174.0,46.0 C176.7,45.0 180.3,44.3 184.0,44.0 C187.7,43.7 192.7,43.5 196.0,44.0 C199.3,44.5 201.8,45.8 204.0,47.0 C206.2,48.2 208.3,49.5 209.0,51.0 C209.7,52.5 209.5,54.9 208.0,56.0 C206.5,57.1 203.0,57.2 200.0,57.4 C197.0,57.6 193.3,57.4 190.0,57.0 C186.7,56.6 183.2,55.5 180.0,55.0 C176.8,54.5 173.0,54.8 171.0,54.0 C169.0,53.2 167.5,51.3 168.0,50.0Z" fill="#c9cbe6" stroke="#3a3c66" stroke-width="0.85" stroke-opacity="0.75"/>
<path d="M177.0,72.0 C177.3,71.3 178.8,70.2 180.0,70.0 C181.2,69.8 183.0,70.1 184.0,70.6 C185.0,71.1 186.3,72.3 186.0,73.0 C185.7,73.7 183.3,74.4 182.0,74.6 C180.7,74.8 178.8,74.4 178.0,74.0 C177.2,73.6 176.7,72.7 177.0,72.0Z" fill="#c9cbe6" stroke="#3a3c66" stroke-width="0.85" stroke-opacity="0.75"/>
<path d="M197.0,94.0 C197.0,93.4 196.8,93.1 200.0,93.0 C203.2,92.9 212.8,93.1 216.0,93.4 C219.2,93.7 219.0,94.5 219.0,95.0 C219.0,95.5 219.2,96.2 216.0,96.4 C212.8,96.6 203.2,96.8 200.0,96.4 C196.8,96.0 197.0,94.6 197.0,94.0Z" fill="#c9cbe6" stroke="#3a3c66" stroke-width="0.85" stroke-opacity="0.75"/>
<path d="M321.0,51.0 C321.4,50.2 322.5,48.7 324.0,48.0 C325.5,47.3 328.0,46.7 330.0,46.6 C332.0,46.5 334.5,46.8 336.0,47.4 C337.5,48.0 338.8,48.9 339.0,50.0 C339.2,51.1 338.3,53.2 337.0,54.0 C335.7,54.8 333.0,54.9 331.0,55.0 C329.0,55.1 326.6,54.9 325.0,54.6 C323.4,54.3 322.3,53.6 321.6,53.0 C320.9,52.4 320.6,51.8 321.0,51.0Z" fill="#c9cbe6" stroke="#3a3c66" stroke-width="0.85" stroke-opacity="0.75"/>
<path d="M366.0,20.6 C360.2,22.7 365.8,30.1 367.0,33.0 C368.2,35.9 370.3,36.5 373.0,38.0 C375.7,39.5 379.3,41.3 383.0,42.0 C386.7,42.7 391.7,42.3 395.0,42.0 C398.3,41.7 401.3,41.2 403.0,40.0 C404.7,38.8 405.0,36.7 405.0,35.0 C405.0,33.3 403.5,32.4 403.0,30.0 C402.5,27.6 408.2,22.2 402.0,20.6 C395.8,19.0 371.8,18.5 366.0,20.6Z" fill="#c9cbe6" stroke="#3a3c66" stroke-width="0.85" stroke-opacity="0.75"/>
<path d="M84.0,236.0 C84.0,234.9 87.3,233.7 90.0,233.0 C92.7,232.3 97.0,232.0 100.0,232.0 C103.0,232.0 106.0,232.3 108.0,233.0 C110.0,233.7 111.7,234.9 112.0,236.0 C112.3,237.1 112.0,238.7 110.0,239.4 C108.0,240.1 103.3,240.0 100.0,240.0 C96.7,240.0 92.7,240.2 90.0,239.5 C87.3,238.8 84.0,237.1 84.0,236.0Z" fill="#c9cbe6" stroke="#3a3c66" stroke-width="0.85" stroke-opacity="0.75"/>
<path d="M236.0,279.0 C237.5,277.3 242.2,276.7 245.0,277.0 C247.8,277.3 251.2,279.0 253.0,281.0 C254.8,283.0 256.2,286.5 256.0,289.0 C255.8,291.5 253.7,294.7 252.0,296.0 C250.3,297.3 248.2,297.3 246.0,297.0 C243.8,296.7 240.7,295.7 239.0,294.0 C237.3,292.3 236.5,289.5 236.0,287.0 C235.5,284.5 234.5,280.7 236.0,279.0Z" fill="#c9cbe6" stroke="#3a3c66" stroke-width="0.85" stroke-opacity="0.75"/>
<path d="M353.7,280.0 C353.9,279.1 354.4,278.7 356.0,278.5 C357.6,278.3 360.8,278.6 363.0,279.0 C365.2,279.4 368.5,280.1 369.0,281.0 C369.5,281.9 367.5,283.8 366.0,284.5 C364.5,285.2 361.8,285.6 360.0,285.5 C358.2,285.4 356.1,284.9 355.0,284.0 C353.9,283.1 353.5,280.9 353.7,280.0Z" fill="#c9cbe6" stroke="#3a3c66" stroke-width="0.85" stroke-opacity="0.75"/>
<path d="M172.0,287.0 C173.0,285.0 177.2,284.2 180.0,284.0 C182.8,283.8 186.7,284.3 189.0,285.5 C191.3,286.7 193.5,288.9 194.0,291.0 C194.5,293.1 194.0,296.5 192.0,298.0 C190.0,299.5 185.0,300.3 182.0,300.0 C179.0,299.7 175.7,298.2 174.0,296.0 C172.3,293.8 171.0,289.0 172.0,287.0Z" fill="#c9cbe6" stroke="#3a3c66" stroke-width="0.85" stroke-opacity="0.75"/>
<path d="M348.0,379.0 C348.3,378.5 353.7,378.0 356.0,378.0 C358.3,378.0 361.2,378.5 362.0,379.0 C362.8,379.5 362.3,380.7 361.0,381.0 C359.7,381.3 356.2,381.3 354.0,381.0 C351.8,380.7 347.7,379.5 348.0,379.0Z" fill="#c9cbe6" stroke="#3a3c66" stroke-width="0.85" stroke-opacity="0.75"/>
<path d="M182.0,50.0 C182.8,49.1 187.5,47.2 190.0,47.0 C192.5,46.8 196.7,48.0 197.0,49.0 C197.3,50.0 194.0,52.4 192.0,53.0 C190.0,53.6 186.7,53.1 185.0,52.6 C183.3,52.1 181.2,50.9 182.0,50.0Z" fill="#ffffff" stroke="#3a3c66" stroke-width="0.85" stroke-opacity="0.75"/>
<path d="M93.0,236.5 C92.8,236.1 96.2,235.5 98.0,235.5 C99.8,235.5 103.8,236.1 104.0,236.5 C104.2,236.9 100.8,238.0 99.0,238.0 C97.2,238.0 93.2,236.9 93.0,236.5Z" fill="#ffffff" stroke="#3a3c66" stroke-width="0.85" stroke-opacity="0.75"/>
<path d="M241.0,283.0 C242.2,282.2 245.5,281.5 247.0,282.0 C248.5,282.5 249.8,284.5 250.0,286.0 C250.2,287.5 249.2,290.2 248.0,291.0 C246.8,291.8 244.3,291.7 243.0,291.0 C241.7,290.3 240.3,288.3 240.0,287.0 C239.7,285.7 239.8,283.8 241.0,283.0Z" fill="#ffffff" stroke="#3a3c66" stroke-width="0.85" stroke-opacity="0.75"/>
<path d="M125.0,150.0 C125.5,149.0 126.8,147.5 128.0,147.0 C129.2,146.5 131.0,146.5 132.0,147.0 C133.0,147.5 133.8,148.7 134.0,150.0 C134.2,151.3 133.7,153.7 133.0,155.0 C132.3,156.3 131.0,157.8 130.0,158.0 C129.0,158.2 127.8,156.8 127.0,156.0 C126.2,155.2 125.3,154.0 125.0,153.0 C124.7,152.0 124.5,151.0 125.0,150.0Z" fill="#f2ec9a" stroke="#3a3c66" stroke-width="0.85" stroke-opacity="0.75"/>
<path d="M126.0,236.0 C127.0,234.2 130.0,233.2 132.0,232.0 C134.0,230.8 136.5,230.0 138.0,229.0 C139.5,228.0 140.3,225.5 141.0,226.0 C141.7,226.5 142.0,230.0 142.0,232.0 C142.0,234.0 141.5,236.5 141.0,238.0 C140.5,239.5 140.2,240.3 139.0,241.0 C137.8,241.7 135.5,241.0 134.0,242.0 C132.5,243.0 131.2,245.7 130.0,247.0 C128.8,248.3 127.8,249.8 127.0,250.0 C126.2,250.2 125.2,249.2 125.0,248.0 C124.8,246.8 125.8,245.0 126.0,243.0 C126.2,241.0 125.0,237.8 126.0,236.0Z" fill="#f2ec9a" stroke="#3a3c66" stroke-width="0.85" stroke-opacity="0.75"/>
<path d="M129.0,283.0 C130.0,281.8 132.5,280.8 134.0,280.0 C135.5,279.2 136.7,278.2 138.0,278.0 C139.3,277.8 141.1,277.8 142.0,279.0 C142.9,280.2 143.4,283.0 143.6,285.0 C143.8,287.0 143.6,289.3 143.0,291.0 C142.4,292.7 141.5,294.3 140.0,295.0 C138.5,295.7 135.7,295.5 134.0,295.0 C132.3,294.5 131.0,293.3 130.0,292.0 C129.0,290.7 128.2,288.5 128.0,287.0 C127.8,285.5 128.0,284.2 129.0,283.0Z" fill="#f2ec9a" stroke="#3a3c66" stroke-width="0.85" stroke-opacity="0.75"/>
<path d="M212.4,278.6 C213.2,278.2 215.5,277.8 217.3,277.8 C219.1,277.8 221.8,278.2 223.0,278.6 C224.2,279.0 224.7,279.7 224.6,280.3 C224.5,280.9 223.7,281.7 222.2,282.0 C220.7,282.3 217.2,282.3 215.6,282.0 C214.0,281.7 212.9,280.9 212.4,280.3 C211.9,279.7 211.6,279.0 212.4,278.6Z" fill="#f2ec9a" stroke="#3a3c66" stroke-width="0.85" stroke-opacity="0.75"/>
<path d="M111.0,391.0 C111.7,389.7 113.0,388.2 114.0,388.0 C115.0,387.8 116.2,388.8 117.0,390.0 C117.8,391.2 118.0,394.2 119.0,395.0 C120.0,395.8 121.5,394.8 123.0,395.0 C124.5,395.2 126.7,395.2 128.0,396.0 C129.3,396.8 130.5,397.8 131.0,400.0 C131.5,402.2 134.5,407.8 131.0,409.4 C127.5,411.0 113.5,411.6 110.0,409.4 C106.5,407.2 109.8,399.1 110.0,396.0 C110.2,392.9 110.3,392.3 111.0,391.0Z" fill="#f2ec9a" stroke="#3a3c66" stroke-width="0.85" stroke-opacity="0.75"/>
<mask id="lm" maskUnits="userSpaceOnUse" x="0" y="0" width="550" height="566"><rect x="0" y="0" width="550" height="566" fill="#fff"/><rect x="87" y="73.5" width="30" height="11" fill="#000" transform="rotate(-20 102 79)"/><rect x="200" y="119.5" width="30" height="11" fill="#000" transform="rotate(-12 215 125)"/><rect x="315" y="74.5" width="30" height="11" fill="#000" transform="rotate(12 330 80)"/><rect x="296" y="99.5" width="30" height="11" fill="#000" transform="rotate(-10 311 105)"/><rect x="287" y="139.5" width="30" height="11" fill="#000" transform="rotate(3 302 145)"/><rect x="301.4" y="163.5" width="30" height="11" fill="#000" transform="rotate(-12 316.4 169)"/><rect x="299.4" y="190.9" width="30" height="11" fill="#000" transform="rotate(0 314.4 196.4)"/><rect x="301.4" y="208.1" width="30" height="11" fill="#000" transform="rotate(0 316.4 213.6)"/><rect x="383.6" y="141.1" width="30" height="11" fill="#000" transform="rotate(0 398.6 146.6)"/><rect x="396.6" y="150.1" width="30" height="11" fill="#000" transform="rotate(0 411.6 155.6)"/><rect x="396" y="197.5" width="30" height="11" fill="#000" transform="rotate(0 411 203)"/><rect x="107.5" y="206.5" width="30" height="11" fill="#000" transform="rotate(0 122.5 212)"/><rect x="206" y="182.5" width="30" height="11" fill="#000" transform="rotate(-15 221 188)"/><rect x="204" y="204.1" width="30" height="11" fill="#000" transform="rotate(0 219 209.6)"/><rect x="173" y="219.5" width="30" height="11" fill="#000" transform="rotate(10 188 225)"/><rect x="88" y="246.5" width="30" height="11" fill="#000" transform="rotate(0 103 252)"/><rect x="136.5" y="265.5" width="30" height="11" fill="#000" transform="rotate(0 151.5 271)"/><rect x="232" y="273.1" width="30" height="11" fill="#000" transform="rotate(0 247 278.6)"/><rect x="183" y="290.5" width="30" height="11" fill="#000" transform="rotate(-4 198 296)"/><rect x="182.6" y="302.5" width="30" height="11" fill="#000" transform="rotate(-3 197.6 308)"/><rect x="182.6" y="328.5" width="30" height="11" fill="#000" transform="rotate(0 197.6 334)"/><rect x="87" y="299.5" width="30" height="11" fill="#000" transform="rotate(0 102 305)"/><rect x="87" y="308.5" width="30" height="11" fill="#000" transform="rotate(0 102 314)"/><rect x="86.5" y="334.0" width="30" height="11" fill="#000" transform="rotate(0 101.5 339.5)"/><rect x="249" y="248.5" width="30" height="11" fill="#000" transform="rotate(-15 264 254)"/><rect x="279" y="291.5" width="30" height="11" fill="#000" transform="rotate(0 294 297)"/><rect x="279" y="320.5" width="30" height="11" fill="#000" transform="rotate(0 294 326)"/><rect x="320.7" y="261.5" width="30" height="11" fill="#000" transform="rotate(0 335.7 267)"/><rect x="375.8" y="278.5" width="30" height="11" fill="#000" transform="rotate(-10 390.8 284)"/><rect x="375.8" y="312.0" width="30" height="11" fill="#000" transform="rotate(0 390.8 317.5)"/></mask>
<g mask="url(#lm)">
<path d="M53.0,33.5 C56.7,33.2 67.7,32.3 75.0,31.7 C82.3,31.1 91.2,30.3 97.0,29.8 C102.8,29.3 107.8,28.8 110.0,28.6" fill="none" stroke="#1c1c3c" stroke-opacity="0.55" stroke-width="0.85"/>
<path d="M53.0,45.0 C54.5,44.8 59.2,43.7 62.0,44.0 C64.8,44.3 67.0,46.0 70.0,47.0 C73.0,48.0 75.8,50.0 80.0,50.0 C84.2,50.0 89.2,48.2 95.0,47.0 C100.8,45.8 107.5,44.5 115.0,43.0 C122.5,41.5 131.7,39.5 140.0,38.0 C148.3,36.5 156.7,35.3 165.0,34.0 C173.3,32.7 184.2,30.9 190.0,30.0 C195.8,29.1 198.3,28.8 200.0,28.6" fill="none" stroke="#1c1c3c" stroke-opacity="0.55" stroke-width="0.85"/>
<path d="M53.0,63.0 C56.7,62.6 67.7,61.7 75.0,60.5 C82.3,59.3 88.3,57.6 97.0,55.7 C105.7,53.9 117.2,51.4 127.0,49.4 C136.8,47.4 146.2,45.5 156.0,43.5 C165.8,41.5 176.7,39.1 186.0,37.2 C195.3,35.4 205.2,33.8 212.0,32.4 C218.8,31.0 224.1,29.2 226.5,28.6" fill="none" stroke="#1c1c3c" stroke-opacity="0.55" stroke-width="0.85"/>
<path d="M53.0,72.3 C57.9,71.7 72.7,69.9 82.5,68.6 C92.3,67.2 101.6,66.0 112.0,64.2 C122.4,62.4 134.5,59.5 145.0,57.5 C155.5,55.5 164.5,54.0 175.0,52.0 C185.5,50.0 197.6,47.5 208.0,45.7 C218.4,43.9 229.6,42.5 237.6,41.0 C245.6,39.5 246.8,38.5 256.0,37.0 C265.2,35.5 283.7,33.1 293.0,31.7 C302.3,30.3 308.8,29.1 312.0,28.6" fill="none" stroke="#1c1c3c" stroke-opacity="0.55" stroke-width="0.85"/>
<path d="M53.0,82.0 C59.2,81.2 77.2,78.8 90.0,77.0 C102.8,75.2 116.7,73.7 130.0,71.0 C143.3,68.3 156.7,63.8 170.0,61.0 C183.3,58.2 195.7,56.1 210.0,54.0 C224.3,51.9 242.2,50.3 256.0,48.4 C269.8,46.5 280.7,44.6 293.0,42.8 C305.3,40.9 317.7,39.1 330.0,37.3 C342.3,35.4 357.7,33.1 367.0,31.7 C376.3,30.2 382.8,29.1 386.0,28.6" fill="none" stroke="#1c1c3c" stroke-opacity="0.55" stroke-width="0.85"/>
<path d="M64.0,94.4 C67.7,92.9 79.8,87.7 86.0,85.2 C92.2,82.8 95.7,81.6 101.0,79.7 C106.3,77.8 110.8,75.6 117.6,74.0 C124.4,72.4 132.7,71.2 141.6,70.0 C150.5,68.8 161.2,67.8 171.0,67.0 C180.8,66.2 190.9,65.6 200.7,65.0 C210.5,64.4 220.8,64.0 230.0,63.5 C239.2,63.0 245.5,63.3 256.0,62.0 C266.5,60.7 280.7,57.8 293.0,55.8 C305.3,53.8 317.7,52.1 330.0,50.3 C342.3,48.4 354.7,46.6 367.0,44.7 C379.3,42.8 393.5,41.0 404.0,39.1 C414.5,37.2 420.7,35.1 430.0,33.6 C439.3,32.1 455.0,30.5 460.0,29.9" fill="none" stroke="#1c1c3c" stroke-opacity="0.55" stroke-width="0.85"/>
<path d="M64.0,94.4 C67.1,95.2 75.7,97.5 82.5,98.9 C89.3,100.3 97.3,101.5 104.7,102.6 C112.1,103.7 119.4,104.5 126.8,105.5 C134.2,106.5 141.0,107.8 149.0,108.5 C157.0,109.2 166.3,109.6 174.8,110.0 C183.3,110.4 190.8,111.0 200.0,111.0 C209.2,111.0 220.7,110.5 230.0,110.0 C239.3,109.5 248.0,108.7 256.0,108.0 C264.0,107.3 271.2,106.7 278.0,106.0 C284.8,105.3 288.3,105.2 297.0,104.0 C305.7,102.8 320.8,100.0 330.0,98.5 C339.2,97.0 344.5,96.0 352.5,94.8 C360.5,93.5 369.4,92.2 378.0,91.0 C386.6,89.8 395.3,88.6 404.0,87.4 C412.7,86.2 420.7,84.8 430.0,83.6 C439.3,82.4 455.0,80.6 460.0,80.0" fill="none" stroke="#1c1c3c" stroke-opacity="0.55" stroke-width="0.85"/>
<path d="M53.0,98.0 L64.0,94.4" fill="none" stroke="#1c1c3c" stroke-opacity="0.55" stroke-width="0.85"/>
<path d="M178.0,83.4 C181.8,83.4 193.2,82.9 200.7,83.4 C208.2,83.9 215.4,85.1 222.8,86.3 C230.2,87.5 239.5,89.8 245.0,90.8 C250.5,91.8 248.5,91.7 256.0,92.6 C263.5,93.5 279.3,95.1 290.0,96.0 C300.7,96.9 315.0,97.7 320.0,98.0" fill="none" stroke="#1c1c3c" stroke-opacity="0.55" stroke-width="0.85"/>
<path d="M412.0,61.4 C415.7,60.8 426.0,58.9 434.0,57.7 C442.0,56.5 455.7,54.6 460.0,54.0" fill="none" stroke="#1c1c3c" stroke-opacity="0.55" stroke-width="0.85"/>
<path d="M412.0,61.4 C416.9,62.0 433.5,64.1 441.5,65.0 C449.5,65.9 456.9,66.7 460.0,67.0" fill="none" stroke="#1c1c3c" stroke-opacity="0.55" stroke-width="0.85"/>
<path d="M276.0,70.0 C277.5,70.2 281.0,71.0 285.0,71.5 C289.0,72.0 295.0,72.3 300.0,73.0 C305.0,73.7 310.0,74.3 315.0,75.5 C320.0,76.7 325.0,78.5 330.0,80.0 C335.0,81.5 340.3,83.1 345.0,84.5 C349.7,85.9 354.2,86.9 358.0,88.5 C361.8,90.1 366.3,93.1 368.0,94.0" fill="none" stroke="#1c1c3c" stroke-opacity="0.55" stroke-width="0.85"/>
<path d="M53.0,110.0 C57.5,110.5 70.5,112.0 80.0,113.0 C89.5,114.0 100.0,115.0 110.0,116.0 C120.0,117.0 130.0,118.2 140.0,119.0 C150.0,119.8 160.0,120.3 170.0,121.0 C180.0,121.7 190.0,122.8 200.0,123.0 C210.0,123.2 220.7,122.7 230.0,122.5 C239.3,122.3 245.5,122.3 256.0,121.7 C266.5,121.1 280.7,120.0 293.0,119.0 C305.3,118.0 317.7,117.1 330.0,116.0 C342.3,114.9 354.7,113.6 367.0,112.4 C379.3,111.2 394.1,109.6 404.0,108.7 C413.9,107.8 417.3,107.7 426.6,106.9 C435.9,106.1 454.4,104.5 460.0,104.0" fill="none" stroke="#1c1c3c" stroke-opacity="0.55" stroke-width="0.85"/>
<path d="M53.0,123.0 C59.2,122.8 77.7,121.8 90.0,121.5 C102.3,121.2 114.7,121.2 127.0,121.0 C139.3,120.8 151.8,120.2 164.0,120.0 C176.2,119.8 189.0,120.5 200.0,120.0 C211.0,119.5 220.7,117.8 230.0,117.0 C239.3,116.2 251.7,115.3 256.0,115.0" fill="none" stroke="#1c1c3c" stroke-opacity="0.55" stroke-width="0.85"/>
<path d="M53.0,130.0 C59.2,129.9 77.7,129.8 90.0,129.5 C102.3,129.2 114.7,128.3 127.0,128.0 C139.3,127.7 151.8,127.6 164.0,127.5 C176.2,127.4 187.8,127.3 200.0,127.5 C212.2,127.7 227.7,128.2 237.0,128.5 C246.3,128.8 246.7,128.6 256.0,129.0 C265.3,129.4 280.7,130.2 293.0,131.0 C305.3,131.8 317.7,133.5 330.0,134.0 C342.3,134.5 354.7,134.3 367.0,134.0 C379.3,133.7 391.8,132.8 404.0,132.0 C416.2,131.2 430.7,129.8 440.0,129.0 C449.3,128.2 456.7,127.3 460.0,127.0" fill="none" stroke="#1c1c3c" stroke-opacity="0.55" stroke-width="0.85"/>
<path d="M53.0,135.5 C59.2,135.5 77.7,135.5 90.0,135.5 C102.3,135.5 114.7,135.4 127.0,135.5 C139.3,135.6 151.8,135.8 164.0,136.0 C176.2,136.2 187.8,136.8 200.0,137.0 C212.2,137.2 227.7,137.3 237.0,137.5 C246.3,137.7 246.7,137.8 256.0,138.0 C265.3,138.2 280.7,138.7 293.0,139.0 C305.3,139.3 317.7,139.8 330.0,140.0 C342.3,140.2 354.7,140.5 367.0,140.5 C379.3,140.5 391.8,140.2 404.0,140.0 C416.2,139.8 430.7,139.2 440.0,139.0 C449.3,138.8 456.7,138.6 460.0,138.5" fill="none" stroke="#1c1c3c" stroke-opacity="0.55" stroke-width="0.85"/>
<path d="M53.0,140.0 C56.3,140.1 66.3,140.4 73.0,140.6 C79.7,140.8 86.3,141.2 93.0,141.4 C99.7,141.6 106.3,141.8 113.0,142.0 C119.7,142.2 126.3,142.4 133.0,142.6 C139.7,142.8 148.0,143.2 153.0,143.4 C158.0,143.6 155.2,143.5 163.0,143.6 C170.8,143.7 184.5,143.9 200.0,144.0 C215.5,144.1 241.5,143.8 256.0,144.0 C270.5,144.2 276.7,144.7 287.0,145.0 C297.3,145.3 307.2,145.8 318.0,146.0 C328.8,146.2 340.8,146.4 352.0,146.5 C363.2,146.6 373.7,147.0 385.0,146.8 C396.3,146.6 410.8,145.9 420.0,145.5 C429.2,145.1 433.3,144.8 440.0,144.5 C446.7,144.2 456.7,144.1 460.0,144.0" fill="none" stroke="#1c1c3c" stroke-opacity="0.55" stroke-width="0.85"/>
<path d="M53.0,148.0 C56.3,148.1 66.3,148.4 73.0,148.6 C79.7,148.8 86.3,148.9 93.0,149.0 C99.7,149.1 107.7,149.2 113.0,149.4 C118.3,149.6 120.3,149.7 125.0,150.0 C129.7,150.3 136.3,150.5 141.0,151.0 C145.7,151.5 149.3,152.2 153.0,153.0 C156.7,153.8 156.8,155.2 163.0,156.0 C169.2,156.8 180.5,157.3 190.0,158.0 C199.5,158.7 209.0,159.2 220.0,160.0 C231.0,160.8 244.3,162.3 256.0,163.0 C267.7,163.7 277.7,164.2 290.0,164.0 C302.3,163.8 316.7,162.8 330.0,162.0 C343.3,161.2 357.7,160.0 370.0,159.0 C382.3,158.0 394.7,157.5 404.0,156.0 C413.3,154.5 419.2,151.3 426.0,150.0 C432.8,148.7 439.3,148.2 445.0,148.0 C450.7,147.8 457.5,148.8 460.0,149.0" fill="none" stroke="#1c1c3c" stroke-opacity="0.55" stroke-width="0.85"/>
<path d="M426.0,150.0 C429.2,150.3 439.3,151.5 445.0,152.0 C450.7,152.5 457.5,152.8 460.0,153.0" fill="none" stroke="#1c1c3c" stroke-opacity="0.55" stroke-width="0.85"/>
<path d="M53.0,178.0 C56.3,178.2 66.3,179.4 73.0,179.4 C79.7,179.4 86.3,178.4 93.0,178.0 C99.7,177.6 106.3,177.3 113.0,177.0 C119.7,176.7 126.3,176.5 133.0,176.0 C139.7,175.5 148.0,174.5 153.0,174.0 C158.0,173.5 155.2,173.0 163.0,173.0 C170.8,173.0 188.8,173.5 200.0,174.0 C211.2,174.5 220.7,175.4 230.0,176.0 C239.3,176.6 248.0,177.4 256.0,177.3 C264.0,177.2 270.6,176.4 278.0,175.5 C285.4,174.6 291.2,173.4 300.5,171.8 C309.8,170.2 322.8,167.8 333.9,166.2 C345.0,164.6 355.3,163.7 367.0,162.5 C378.7,161.3 394.1,159.7 404.0,158.8 C413.9,157.9 417.3,157.6 426.6,157.0 C435.9,156.4 454.4,155.3 460.0,155.0" fill="none" stroke="#1c1c3c" stroke-opacity="0.55" stroke-width="0.85"/>
<path d="M53.0,187.0 C56.3,187.1 66.3,187.5 73.0,187.4 C79.7,187.3 86.3,186.8 93.0,186.6 C99.7,186.4 106.3,186.4 113.0,186.0 C119.7,185.6 126.3,184.8 133.0,184.0 C139.7,183.2 148.0,182.1 153.0,181.4 C158.0,180.7 155.2,180.1 163.0,180.0 C170.8,179.9 188.8,180.7 200.0,181.0 C211.2,181.3 220.7,181.7 230.0,182.0 C239.3,182.3 245.5,183.2 256.0,183.0 C266.5,182.8 280.7,181.9 293.0,181.0 C305.3,180.1 317.7,178.2 330.0,177.3 C342.3,176.4 354.7,176.1 367.0,175.5 C379.3,174.9 388.5,174.2 404.0,173.6 C419.5,173.0 450.7,172.1 460.0,171.8" fill="none" stroke="#1c1c3c" stroke-opacity="0.55" stroke-width="0.85"/>
<path d="M53.0,190.0 C59.7,189.8 79.7,188.9 93.0,188.6 C106.3,188.3 121.3,188.2 133.0,188.0 C144.7,187.8 152.7,187.1 163.0,187.4 C173.3,187.7 185.3,189.9 195.0,190.0 C204.7,190.1 212.7,189.0 221.0,188.0 C229.3,187.0 239.2,184.3 245.0,184.0 C250.8,183.7 248.0,185.5 256.0,186.0 C264.0,186.5 280.7,187.0 293.0,187.0 C305.3,187.0 320.2,187.0 330.0,186.0 C339.8,185.0 342.8,181.7 352.0,181.0 C361.2,180.3 373.7,181.5 385.0,182.0 C396.3,182.5 407.5,183.3 420.0,184.0 C432.5,184.7 453.3,185.7 460.0,186.0" fill="none" stroke="#1c1c3c" stroke-opacity="0.55" stroke-width="0.85"/>
<path d="M53.0,196.0 C59.7,195.8 79.7,195.2 93.0,195.0 C106.3,194.8 121.3,194.7 133.0,194.5 C144.7,194.3 151.8,194.1 163.0,194.0 C174.2,193.9 188.8,194.2 200.0,194.0 C211.2,193.8 220.7,193.3 230.0,193.0 C239.3,192.7 245.5,192.1 256.0,192.0 C266.5,191.9 280.7,192.3 293.0,192.5 C305.3,192.7 317.7,192.8 330.0,193.0 C342.3,193.2 354.7,193.7 367.0,194.0 C379.3,194.3 393.5,194.7 404.0,195.0 C414.5,195.3 420.7,195.7 430.0,196.0 C439.3,196.3 455.0,196.8 460.0,197.0" fill="none" stroke="#1c1c3c" stroke-opacity="0.55" stroke-width="0.85"/>
<path d="M53.0,203.0 C59.7,202.8 79.7,202.3 93.0,202.0 C106.3,201.7 121.3,201.2 133.0,201.0 C144.7,200.8 151.8,200.9 163.0,200.6 C174.2,200.3 188.8,199.4 200.0,199.0 C211.2,198.6 220.7,198.3 230.0,198.0 C239.3,197.7 246.0,197.3 256.0,197.0 C266.0,196.7 276.0,196.0 290.0,196.0 C304.0,196.0 326.7,196.5 340.0,197.0 C353.3,197.5 360.0,198.3 370.0,199.0 C380.0,199.7 390.0,200.3 400.0,201.0 C410.0,201.7 420.0,202.5 430.0,203.0 C440.0,203.5 455.0,203.8 460.0,204.0" fill="none" stroke="#1c1c3c" stroke-opacity="0.55" stroke-width="0.85"/>
<path d="M53.0,206.0 C71.3,205.7 138.5,204.5 163.0,204.0 C187.5,203.5 184.5,203.3 200.0,203.0 C215.5,202.7 240.5,202.1 256.0,202.0 C271.5,201.9 280.7,202.2 293.0,202.5 C305.3,202.8 317.7,203.4 330.0,204.0 C342.3,204.6 354.7,205.3 367.0,206.0 C379.3,206.7 393.5,207.3 404.0,208.0 C414.5,208.7 420.7,209.3 430.0,210.0 C439.3,210.7 455.0,211.7 460.0,212.0" fill="none" stroke="#1c1c3c" stroke-opacity="0.55" stroke-width="0.85"/>
<path d="M53.0,210.0 C62.0,210.1 93.0,210.4 107.0,210.6 C121.0,210.8 127.7,211.0 137.0,211.0 C146.3,211.0 149.3,210.8 163.0,210.6 C176.7,210.4 203.5,210.0 219.0,210.0 C234.5,210.0 244.2,210.2 256.0,210.5 C267.8,210.8 280.0,211.5 290.0,212.0 C300.0,212.5 306.8,213.3 316.0,213.6 C325.2,213.9 336.0,213.8 345.0,214.0 C354.0,214.2 360.8,214.2 370.0,215.0 C379.2,215.8 390.0,217.8 400.0,219.0 C410.0,220.2 420.0,221.2 430.0,222.0 C440.0,222.8 455.0,223.7 460.0,224.0" fill="none" stroke="#1c1c3c" stroke-opacity="0.55" stroke-width="0.85"/>
<path d="M53.0,214.0 C71.3,214.1 138.5,214.4 163.0,214.6 C187.5,214.8 184.5,214.8 200.0,215.0 C215.5,215.2 239.3,215.5 256.0,216.0 C272.7,216.5 286.0,217.4 300.0,218.0 C314.0,218.6 326.7,219.0 340.0,219.5 C353.3,220.0 366.7,220.6 380.0,221.0 C393.3,221.4 406.7,222.0 420.0,222.0 C433.3,222.0 453.3,221.2 460.0,221.0" fill="none" stroke="#1c1c3c" stroke-opacity="0.55" stroke-width="0.85"/>
<path d="M53.0,217.0 C71.3,217.1 138.5,217.2 163.0,217.4 C187.5,217.6 187.2,217.7 200.0,218.0 C212.8,218.3 230.7,219.0 240.0,219.5 C249.3,220.0 246.0,220.2 256.0,221.0 C266.0,221.8 286.0,223.0 300.0,224.0 C314.0,225.0 326.7,226.2 340.0,227.0 C353.3,227.8 366.7,228.2 380.0,228.5 C393.3,228.8 406.7,228.9 420.0,229.0 C433.3,229.1 453.3,229.0 460.0,229.0" fill="none" stroke="#1c1c3c" stroke-opacity="0.55" stroke-width="0.85"/>
<path d="M53.0,220.0 C71.3,220.0 138.5,219.8 163.0,220.0 C187.5,220.2 187.2,220.9 200.0,221.5 C212.8,222.1 230.7,222.9 240.0,223.5 C249.3,224.1 248.5,224.1 256.0,225.0 C263.5,225.9 276.8,227.7 285.0,229.0 C293.2,230.3 301.7,232.3 305.0,233.0" fill="none" stroke="#1c1c3c" stroke-opacity="0.55" stroke-width="0.85"/>
<path d="M53.0,223.0 C71.3,223.2 138.5,223.5 163.0,224.0 C187.5,224.5 187.2,225.1 200.0,226.0 C212.8,226.9 230.7,228.7 240.0,229.5 C249.3,230.3 248.5,230.4 256.0,231.0 C263.5,231.6 276.8,232.7 285.0,233.0 C293.2,233.3 301.7,233.0 305.0,233.0" fill="none" stroke="#1c1c3c" stroke-opacity="0.55" stroke-width="0.85"/>
<path d="M53.0,227.0 C71.3,227.2 138.5,227.5 163.0,228.0 C187.5,228.5 187.2,228.7 200.0,230.0 C212.8,231.3 230.7,234.5 240.0,236.0 C249.3,237.5 247.7,238.3 256.0,239.0 C264.3,239.7 277.8,240.2 290.0,240.0 C302.2,239.8 317.3,238.7 329.0,238.0 C340.7,237.3 348.2,236.8 360.0,236.0 C371.8,235.2 383.3,233.7 400.0,233.0 C416.7,232.3 450.0,232.2 460.0,232.0" fill="none" stroke="#1c1c3c" stroke-opacity="0.55" stroke-width="0.85"/>
<path d="M53.0,229.8 C59.2,229.8 77.2,229.8 90.0,230.0 C102.8,230.2 116.7,230.7 130.0,231.0 C143.3,231.3 156.7,231.3 170.0,232.0 C183.3,232.7 198.3,233.2 210.0,235.0 C221.7,236.8 232.3,241.0 240.0,243.0 C247.7,245.0 247.7,246.3 256.0,247.0 C264.3,247.7 277.8,246.4 290.0,247.0 C302.2,247.6 322.5,249.8 329.0,250.4" fill="none" stroke="#1c1c3c" stroke-opacity="0.55" stroke-width="0.85"/>
<path d="M53.0,233.5 C60.0,233.6 82.2,233.8 95.0,234.0 C107.8,234.2 117.5,234.5 130.0,235.0 C142.5,235.5 156.7,236.0 170.0,237.0 C183.3,238.0 198.3,239.0 210.0,241.0 C221.7,243.0 232.3,247.2 240.0,249.0 C247.7,250.8 246.0,251.2 256.0,252.0 C266.0,252.8 287.8,254.3 300.0,254.0 C312.2,253.7 324.2,251.0 329.0,250.4" fill="none" stroke="#1c1c3c" stroke-opacity="0.55" stroke-width="0.85"/>
<path d="M329.0,250.4 C331.7,249.9 339.0,248.5 345.0,247.5 C351.0,246.5 357.5,245.3 365.0,244.5 C372.5,243.7 380.8,243.1 390.0,242.5 C399.2,241.9 408.3,241.5 420.0,241.0 C431.7,240.5 453.3,239.8 460.0,239.5" fill="none" stroke="#1c1c3c" stroke-opacity="0.55" stroke-width="0.85"/>
<path d="M400.3,247.3 C403.7,246.8 413.8,245.1 420.6,244.5 C427.4,243.9 434.4,243.8 441.0,243.5 C447.6,243.2 456.8,243.1 460.0,243.0" fill="none" stroke="#1c1c3c" stroke-opacity="0.55" stroke-width="0.85"/>
<path d="M400.3,247.3 C403.7,248.1 413.8,251.1 420.6,252.3 C427.4,253.5 434.4,254.0 441.0,254.4 C447.6,254.8 456.8,254.7 460.0,254.8" fill="none" stroke="#1c1c3c" stroke-opacity="0.55" stroke-width="0.85"/>
<path d="M53.0,237.9 C57.5,237.9 72.8,237.3 80.0,238.0 C87.2,238.7 90.7,242.0 96.0,242.0 C101.3,242.0 105.5,238.5 112.0,238.0 C118.5,237.5 125.3,238.3 135.0,239.0 C144.7,239.7 157.5,240.7 170.0,242.0 C182.5,243.3 199.2,245.2 210.0,247.0 C220.8,248.8 227.3,251.2 235.0,253.0 C242.7,254.8 246.8,256.8 256.0,258.0 C265.2,259.2 279.0,259.3 290.0,260.0 C301.0,260.7 311.8,260.6 322.0,262.0 C332.2,263.4 339.7,267.1 351.0,268.5 C362.3,269.9 378.5,270.2 390.0,270.5 C401.5,270.8 408.3,270.4 420.0,270.0 C431.7,269.6 453.3,268.3 460.0,268.0" fill="none" stroke="#1c1c3c" stroke-opacity="0.55" stroke-width="0.85"/>
<path d="M53.0,242.7 C60.2,243.1 82.3,244.8 96.0,245.0 C109.7,245.2 122.7,243.7 135.0,244.0 C147.3,244.3 157.5,245.7 170.0,247.0 C182.5,248.3 200.0,250.3 210.0,252.0 C220.0,253.7 222.3,255.3 230.0,257.0 C237.7,258.7 247.2,260.8 256.0,262.0 C264.8,263.2 275.7,263.3 283.0,264.0 C290.3,264.7 293.8,265.0 300.0,266.0 C306.2,267.0 316.7,269.3 320.0,270.0" fill="none" stroke="#1c1c3c" stroke-opacity="0.55" stroke-width="0.85"/>
<path d="M53.0,247.5 C60.2,247.8 82.3,248.8 96.0,249.0 C109.7,249.2 122.7,248.7 135.0,249.0 C147.3,249.3 157.5,249.8 170.0,251.0 C182.5,252.2 198.3,254.2 210.0,256.0 C221.7,257.8 232.3,260.5 240.0,262.0 C247.7,263.5 249.3,264.0 256.0,265.0 C262.7,266.0 272.7,267.2 280.0,268.0 C287.3,268.8 293.3,269.7 300.0,270.0 C306.7,270.3 316.7,270.0 320.0,270.0" fill="none" stroke="#1c1c3c" stroke-opacity="0.55" stroke-width="0.85"/>
<path d="M53.0,251.9 C60.2,252.2 82.3,253.7 96.0,254.0 C109.7,254.3 122.7,253.7 135.0,254.0 C147.3,254.3 157.5,254.8 170.0,256.0 C182.5,257.2 198.3,259.2 210.0,261.0 C221.7,262.8 232.3,265.7 240.0,267.0 C247.7,268.3 249.3,268.2 256.0,269.0 C262.7,269.8 272.5,270.8 280.0,272.0 C287.5,273.2 294.0,275.0 301.0,276.0 C308.0,277.0 317.4,277.2 322.0,278.0 C326.6,278.8 327.6,280.1 328.7,280.5" fill="none" stroke="#1c1c3c" stroke-opacity="0.55" stroke-width="0.85"/>
<path d="M53.0,257.5 C60.8,257.8 85.5,258.8 100.0,259.0 C114.5,259.2 126.7,258.5 140.0,259.0 C153.3,259.5 168.3,260.8 180.0,262.0 C191.7,263.2 200.8,264.3 210.0,266.0 C219.2,267.7 227.3,270.6 235.0,272.0 C242.7,273.4 248.5,273.5 256.0,274.3 C263.5,275.1 272.7,276.2 280.0,277.0 C287.3,277.8 291.9,278.4 300.0,279.0 C308.1,279.6 323.9,280.2 328.7,280.5" fill="none" stroke="#1c1c3c" stroke-opacity="0.55" stroke-width="0.85"/>
<path d="M53.0,263.0 C60.8,263.2 85.5,263.7 100.0,264.0 C114.5,264.3 126.7,264.3 140.0,265.0 C153.3,265.7 168.3,267.0 180.0,268.0 C191.7,269.0 201.3,269.5 210.0,271.0 C218.7,272.5 226.2,275.7 232.0,277.0 C237.8,278.3 241.0,278.5 245.0,279.0 C249.0,279.5 250.2,279.5 256.0,280.0 C261.8,280.5 272.5,281.2 280.0,282.0 C287.5,282.8 294.0,283.8 301.0,284.5 C308.0,285.2 314.8,286.4 322.0,286.5 C329.2,286.6 336.2,286.1 344.0,285.4 C351.8,284.6 361.3,283.0 369.0,282.0 C376.7,281.0 381.5,280.2 390.0,279.5 C398.5,278.8 408.3,278.1 420.0,277.5 C431.7,276.9 453.3,276.2 460.0,276.0" fill="none" stroke="#1c1c3c" stroke-opacity="0.55" stroke-width="0.85"/>
<path d="M53.0,268.5 C60.8,268.7 85.5,269.2 100.0,269.5 C114.5,269.8 126.7,269.4 140.0,270.0 C153.3,270.6 168.3,272.0 180.0,273.0 C191.7,274.0 201.3,274.5 210.0,276.0 C218.7,277.5 226.2,280.8 232.0,282.0 C237.8,283.2 241.0,282.6 245.0,283.0 C249.0,283.4 250.2,283.8 256.0,284.5 C261.8,285.2 272.5,286.1 280.0,287.0 C287.5,287.9 294.0,289.2 301.0,290.0 C308.0,290.8 314.8,291.7 322.0,291.8 C329.2,291.9 336.8,291.2 344.0,290.7 C351.2,290.2 357.3,289.3 365.0,288.6 C372.7,287.9 380.8,287.1 390.0,286.5 C399.2,285.9 408.3,285.4 420.0,285.0 C431.7,284.6 453.3,284.2 460.0,284.0" fill="none" stroke="#1c1c3c" stroke-opacity="0.55" stroke-width="0.85"/>
<path d="M53.0,274.0 C60.8,274.2 85.5,274.7 100.0,275.0 C114.5,275.3 126.7,275.5 140.0,276.0 C153.3,276.5 168.3,277.2 180.0,278.0 C191.7,278.8 200.8,279.5 210.0,281.0 C219.2,282.5 229.2,285.7 235.0,287.0 C240.8,288.3 241.5,288.6 245.0,289.0 C248.5,289.4 251.0,289.0 256.0,289.5 C261.0,290.0 267.7,291.2 275.0,292.0 C282.3,292.8 295.8,293.7 300.0,294.0" fill="none" stroke="#1c1c3c" stroke-opacity="0.55" stroke-width="0.85"/>
<path d="M53.0,279.6 C60.8,279.8 85.5,280.3 100.0,280.5 C114.5,280.7 126.7,280.6 140.0,281.0 C153.3,281.4 167.5,282.0 180.0,283.0 C192.5,284.0 205.8,285.5 215.0,287.0 C224.2,288.5 228.2,291.0 235.0,292.0 C241.8,293.0 249.3,292.6 256.0,293.0 C262.7,293.4 267.7,294.3 275.0,294.5 C282.3,294.7 295.8,294.1 300.0,294.0" fill="none" stroke="#1c1c3c" stroke-opacity="0.55" stroke-width="0.85"/>
<path d="M53.0,285.1 C60.8,285.2 85.5,285.7 100.0,286.0 C114.5,286.3 126.7,286.5 140.0,287.0 C153.3,287.5 167.5,288.2 180.0,289.0 C192.5,289.8 205.0,290.7 215.0,292.0 C225.0,293.3 233.2,296.0 240.0,297.0 C246.8,298.0 249.3,297.6 256.0,298.0 C262.7,298.4 272.5,299.3 280.0,299.5 C287.5,299.7 292.2,299.3 301.0,299.0 C309.8,298.7 324.2,298.0 333.0,297.5 C341.8,297.0 347.0,296.5 354.0,296.0 C361.0,295.5 369.7,294.3 375.0,294.5 C380.3,294.7 380.1,296.9 386.0,297.0 C391.9,297.1 403.0,295.9 410.5,295.4 C418.0,294.9 422.6,294.6 430.8,294.0 C439.1,293.4 455.1,292.3 460.0,292.0" fill="none" stroke="#1c1c3c" stroke-opacity="0.55" stroke-width="0.85"/>
<path d="M404.4,302.0 C408.8,301.8 421.5,301.3 430.8,301.0 C440.1,300.7 455.1,300.2 460.0,300.0" fill="none" stroke="#1c1c3c" stroke-opacity="0.55" stroke-width="0.85"/>
<path d="M404.4,302.0 C407.1,302.9 414.5,306.0 420.6,307.2 C426.7,308.4 434.4,308.7 441.0,309.2 C447.6,309.7 456.8,310.0 460.0,310.2" fill="none" stroke="#1c1c3c" stroke-opacity="0.55" stroke-width="0.85"/>
<path d="M53.0,290.7 C60.8,290.8 85.5,291.3 100.0,291.5 C114.5,291.7 126.7,291.6 140.0,292.0 C153.3,292.4 166.7,293.2 180.0,294.0 C193.3,294.8 207.3,295.7 220.0,297.0 C232.7,298.3 246.0,300.7 256.0,302.0 C266.0,303.3 272.5,304.2 280.0,305.0 C287.5,305.8 294.0,306.6 301.0,306.6 C308.0,306.6 315.5,305.6 322.0,305.0 C328.5,304.4 337.0,303.3 340.0,303.0" fill="none" stroke="#1c1c3c" stroke-opacity="0.55" stroke-width="0.85"/>
<path d="M53.0,296.2 C60.8,296.3 85.5,296.8 100.0,297.0 C114.5,297.2 126.7,297.2 140.0,297.5 C153.3,297.8 166.7,298.2 180.0,299.0 C193.3,299.8 207.3,300.8 220.0,302.0 C232.7,303.2 246.0,304.9 256.0,306.0 C266.0,307.1 272.5,308.2 280.0,308.7 C287.5,309.2 294.0,309.1 301.0,309.0 C308.0,308.9 315.5,309.0 322.0,308.0 C328.5,307.0 337.0,303.8 340.0,303.0" fill="none" stroke="#1c1c3c" stroke-opacity="0.55" stroke-width="0.85"/>
<path d="M53.0,301.7 C60.8,301.8 85.5,302.3 100.0,302.5 C114.5,302.7 126.7,302.8 140.0,303.0 C153.3,303.2 166.7,303.3 180.0,304.0 C193.3,304.7 207.3,305.8 220.0,307.0 C232.7,308.2 246.0,310.0 256.0,311.0 C266.0,312.0 272.7,312.5 280.0,313.0 C287.3,313.5 296.7,313.8 300.0,314.0" fill="none" stroke="#1c1c3c" stroke-opacity="0.55" stroke-width="0.85"/>
<path d="M53.0,306.5 C60.8,306.6 85.5,306.8 100.0,307.0 C114.5,307.2 126.7,307.7 140.0,308.0 C153.3,308.3 166.7,308.3 180.0,309.0 C193.3,309.7 207.3,311.0 220.0,312.0 C232.7,313.0 246.0,314.3 256.0,315.0 C266.0,315.7 272.7,316.2 280.0,316.0 C287.3,315.8 296.7,314.3 300.0,314.0" fill="none" stroke="#1c1c3c" stroke-opacity="0.55" stroke-width="0.85"/>
<path d="M53.0,311.7 C60.8,311.8 85.5,311.9 100.0,312.0 C114.5,312.1 126.7,312.2 140.0,312.5 C153.3,312.8 166.7,312.9 180.0,313.5 C193.3,314.1 207.3,315.2 220.0,316.0 C232.7,316.8 245.7,317.8 256.0,318.5 C266.3,319.2 273.4,319.6 282.0,320.5 C290.6,321.4 299.0,323.8 307.5,323.6 C316.0,323.4 325.2,320.4 333.0,319.3 C340.8,318.2 347.0,317.8 354.0,317.2 C361.0,316.6 365.9,316.0 375.0,316.0 C384.1,316.0 399.1,316.8 408.4,317.3 C417.7,317.8 422.2,318.7 430.8,319.0 C439.4,319.3 455.1,319.2 460.0,319.3" fill="none" stroke="#1c1c3c" stroke-opacity="0.55" stroke-width="0.85"/>
<path d="M53.0,316.5 C60.8,316.6 85.5,316.9 100.0,317.0 C114.5,317.1 126.7,316.8 140.0,317.0 C153.3,317.2 166.7,317.5 180.0,318.0 C193.3,318.5 207.3,319.3 220.0,320.0 C232.7,320.7 244.3,321.0 256.0,322.0 C267.7,323.0 279.3,325.1 290.0,326.0 C300.7,326.9 308.3,327.3 320.0,327.5 C331.7,327.7 346.7,327.2 360.0,327.0 C373.3,326.8 388.3,326.7 400.0,326.5 C411.7,326.3 420.0,326.1 430.0,326.0 C440.0,325.9 455.0,326.0 460.0,326.0" fill="none" stroke="#1c1c3c" stroke-opacity="0.55" stroke-width="0.85"/>
<path d="M53.0,322.0 C59.2,322.0 77.2,322.0 90.0,322.0 C102.8,322.0 116.7,322.1 130.0,322.0 C143.3,321.9 156.7,321.8 170.0,321.5 C183.3,321.2 195.7,320.3 210.0,320.0 C224.3,319.7 248.3,319.6 256.0,319.5" fill="none" stroke="#1c1c3c" stroke-opacity="0.55" stroke-width="0.85"/>
<path d="M53.0,326.6 C59.2,326.5 77.7,326.1 90.0,325.8 C102.3,325.5 114.7,325.5 127.0,325.0 C139.3,324.5 151.4,323.7 163.7,322.9 C176.0,322.1 188.4,321.4 200.7,320.3 C213.0,319.2 231.4,317.2 237.6,316.6" fill="none" stroke="#1c1c3c" stroke-opacity="0.55" stroke-width="0.85"/>
<path d="M53.0,343.6 C58.5,343.1 75.5,341.7 86.0,340.6 C96.5,339.5 105.9,337.9 115.8,337.0 C125.7,336.1 134.3,335.5 145.3,335.0 C156.3,334.5 170.3,334.4 182.0,334.0 C193.7,333.6 203.1,333.2 215.4,332.5 C227.7,331.8 243.6,330.4 256.0,329.5 C268.4,328.6 279.3,327.6 290.0,327.0 C300.7,326.4 308.3,326.8 320.0,326.0 C331.7,325.2 346.7,323.3 360.0,322.0 C373.3,320.7 388.3,319.0 400.0,318.0 C411.7,317.0 420.0,316.5 430.0,316.0 C440.0,315.5 455.0,315.2 460.0,315.0" fill="none" stroke="#1c1c3c" stroke-opacity="0.55" stroke-width="0.85"/>
<path d="M112.0,357.0 C136.0,356.9 221.3,356.5 256.0,356.3 C290.7,356.1 305.2,355.9 320.0,355.6 C334.8,355.3 340.8,354.7 345.0,354.5" fill="none" stroke="#1c1c3c" stroke-opacity="0.55" stroke-width="0.85"/>
<path d="M112.0,357.0 C136.0,357.1 221.3,357.7 256.0,357.7 C290.7,357.7 305.2,357.5 320.0,357.0 C334.8,356.5 340.8,354.9 345.0,354.5" fill="none" stroke="#1c1c3c" stroke-opacity="0.55" stroke-width="0.85"/>
<path d="M53.0,368.3 C59.2,368.6 77.7,369.1 90.0,370.0 C102.3,370.9 114.7,372.2 127.0,373.8 C139.3,375.4 151.4,377.5 163.7,379.4 C176.0,381.3 188.4,383.5 200.7,385.0 C213.0,386.5 228.4,387.7 237.6,388.6 C246.8,389.5 245.6,389.8 256.0,390.4 C266.4,391.0 284.3,391.6 300.0,392.0 C315.7,392.4 341.7,392.8 350.0,393.0" fill="none" stroke="#1c1c3c" stroke-opacity="0.55" stroke-width="0.85"/>
<path d="M53.0,385.0 C56.7,385.6 67.6,387.1 75.0,388.6 C82.4,390.1 90.5,391.9 97.3,394.0 C104.1,396.1 112.7,400.2 115.8,401.4" fill="none" stroke="#1c1c3c" stroke-opacity="0.55" stroke-width="0.85"/>
<path d="M400.0,372.0 C405.0,371.8 420.0,371.3 430.0,371.0 C440.0,370.7 455.0,370.2 460.0,370.0" fill="none" stroke="#1c1c3c" stroke-opacity="0.55" stroke-width="0.85"/>
<path d="M400.0,373.0 C405.0,373.2 420.0,374.2 430.0,374.5 C440.0,374.8 455.0,374.9 460.0,375.0" fill="none" stroke="#1c1c3c" stroke-opacity="0.55" stroke-width="0.85"/>
<path d="M300.0,380.0 C306.7,379.0 326.7,375.8 340.0,374.0 C353.3,372.2 366.7,370.3 380.0,369.0 C393.3,367.7 406.7,366.8 420.0,366.0 C433.3,365.2 453.3,364.3 460.0,364.0" fill="none" stroke="#1c1c3c" stroke-opacity="0.55" stroke-width="0.85"/>
<path d="M402.0,384.0 C408.3,384.3 430.3,385.7 440.0,386.0 C449.7,386.3 456.7,386.0 460.0,386.0" fill="none" stroke="#1c1c3c" stroke-opacity="0.55" stroke-width="0.85"/>
</g>
</g>
<rect x="53" y="28.6" width="407" height="372.79999999999995" fill="none" stroke="#6e6e6e" stroke-width="1"/>
<path d="M53.0,24.4V28.6 M53.0,401.4V405.6 M63.2,24.4V28.6 M63.2,401.4V405.6 M73.3,24.4V28.6 M73.3,401.4V405.6 M83.5,24.4V28.6 M83.5,401.4V405.6 M93.7,24.4V28.6 M93.7,401.4V405.6 M103.9,24.4V28.6 M103.9,401.4V405.6 M114.0,24.4V28.6 M114.0,401.4V405.6 M124.2,24.4V28.6 M124.2,401.4V405.6 M134.4,24.4V28.6 M134.4,401.4V405.6 M144.6,24.4V28.6 M144.6,401.4V405.6 M154.8,24.4V28.6 M154.8,401.4V405.6 M164.9,24.4V28.6 M164.9,401.4V405.6 M175.1,24.4V28.6 M175.1,401.4V405.6 M185.3,24.4V28.6 M185.3,401.4V405.6 M195.4,24.4V28.6 M195.4,401.4V405.6 M205.6,24.4V28.6 M205.6,401.4V405.6 M215.8,24.4V28.6 M215.8,401.4V405.6 M226.0,24.4V28.6 M226.0,401.4V405.6 M236.2,24.4V28.6 M236.2,401.4V405.6 M246.3,24.4V28.6 M246.3,401.4V405.6 M256.5,24.4V28.6 M256.5,401.4V405.6 M266.7,24.4V28.6 M266.7,401.4V405.6 M276.9,24.4V28.6 M276.9,401.4V405.6 M287.0,24.4V28.6 M287.0,401.4V405.6 M297.2,24.4V28.6 M297.2,401.4V405.6 M307.4,24.4V28.6 M307.4,401.4V405.6 M317.6,24.4V28.6 M317.6,401.4V405.6 M327.7,24.4V28.6 M327.7,401.4V405.6 M337.9,24.4V28.6 M337.9,401.4V405.6 M348.1,24.4V28.6 M348.1,401.4V405.6 M358.2,24.4V28.6 M358.2,401.4V405.6 M368.4,24.4V28.6 M368.4,401.4V405.6 M378.6,24.4V28.6 M378.6,401.4V405.6 M388.8,24.4V28.6 M388.8,401.4V405.6 M398.9,24.4V28.6 M398.9,401.4V405.6 M409.1,24.4V28.6 M409.1,401.4V405.6 M419.3,24.4V28.6 M419.3,401.4V405.6 M429.5,24.4V28.6 M429.5,401.4V405.6 M439.6,24.4V28.6 M439.6,401.4V405.6 M449.8,24.4V28.6 M449.8,401.4V405.6 M460.0,24.4V28.6 M460.0,401.4V405.6 M48.5,401.4H53 M460,401.4H460 M48.5,379.5H53 M48.5,357.5H53 M460,357.5H460 M48.5,335.6H53 M48.5,313.7H53 M460,313.7H460 M48.5,291.8H53 M48.5,269.8H53 M460,269.8H460 M48.5,247.9H53 M48.5,226.0H53 M460,226.0H460 M48.5,204.0H53 M48.5,182.1H53 M460,182.1H460 M48.5,160.2H53 M48.5,138.2H53 M460,138.2H460 M48.5,116.3H53 M48.5,94.4H53 M460,94.4H460 M48.5,72.5H53 M48.5,50.5H53 M460,50.5H460 M48.5,28.6H53 M460,357.5H464 M460,313.7H464 M460,269.8H464 M460,226.0H464 M460,182.1H464 M460,138.2H464 M460,94.4H464 M460,50.5H464" stroke="#6e6e6e" stroke-width="1" fill="none"/>
<text x="41.5" y="405.7" font-size="12" text-anchor="end" fill="#222">15 Oct</text>
<text x="41.5" y="339.9" font-size="12" text-anchor="end" fill="#222">18 Oct</text>
<text x="41.5" y="274.1" font-size="12" text-anchor="end" fill="#222">21 Oct</text>
<text x="41.5" y="208.3" font-size="12" text-anchor="end" fill="#222">24 Oct</text>
<text x="41.5" y="142.5" font-size="12" text-anchor="end" fill="#222">27 Oct</text>
<text x="41.5" y="76.8" font-size="12" text-anchor="end" fill="#222">30 Oct</text>
<text x="5.2" y="19.2" font-size="12.4" fill="#222">43.45°S, 75.01°W</text>
<text x="412" y="19.2" font-size="12.4" fill="#222">29.76°S, 60.23°W</text>
<text x="0" y="0" font-size="14" font-weight="bold" text-anchor="middle" dominant-baseline="central" fill="#161616" transform="translate(102 79) rotate(-20) scale(0.84 1)">2980</text>
<text x="0" y="0" font-size="14" font-weight="bold" text-anchor="middle" dominant-baseline="central" fill="#161616" transform="translate(215 125) rotate(-12) scale(0.84 1)">3040</text>
<text x="0" y="0" font-size="14" font-weight="bold" text-anchor="middle" dominant-baseline="central" fill="#161616" transform="translate(330 80) rotate(12) scale(0.84 1)">3040</text>
<text x="0" y="0" font-size="14" font-weight="bold" text-anchor="middle" dominant-baseline="central" fill="#161616" transform="translate(311 105) rotate(-10) scale(0.84 1)">3040</text>
<text x="0" y="0" font-size="14" font-weight="bold" text-anchor="middle" dominant-baseline="central" fill="#161616" transform="translate(302 145) rotate(3) scale(0.84 1)">3040</text>
<text x="0" y="0" font-size="14" font-weight="bold" text-anchor="middle" dominant-baseline="central" fill="#161616" transform="translate(316.4 169) rotate(-12) scale(0.84 1)">3040</text>
<text x="0" y="0" font-size="14" font-weight="bold" text-anchor="middle" dominant-baseline="central" fill="#161616" transform="translate(314.4 196.4) rotate(0) scale(0.84 1)">3040</text>
<text x="0" y="0" font-size="14" font-weight="bold" text-anchor="middle" dominant-baseline="central" fill="#161616" transform="translate(316.4 213.6) rotate(0) scale(0.84 1)">2980</text>
<text x="0" y="0" font-size="14" font-weight="bold" text-anchor="middle" dominant-baseline="central" fill="#161616" transform="translate(398.6 146.6) rotate(0) scale(0.84 1)">3040</text>
<text x="0" y="0" font-size="14" font-weight="bold" text-anchor="middle" dominant-baseline="central" fill="#161616" transform="translate(411.6 155.6) rotate(0) scale(0.84 1)">3040</text>
<text x="0" y="0" font-size="14" font-weight="bold" text-anchor="middle" dominant-baseline="central" fill="#161616" transform="translate(411 203) rotate(0) scale(0.84 1)">3040</text>
<text x="0" y="0" font-size="14" font-weight="bold" text-anchor="middle" dominant-baseline="central" fill="#161616" transform="translate(122.5 212) rotate(0) scale(0.84 1)">2980</text>
<text x="0" y="0" font-size="14" font-weight="bold" text-anchor="middle" dominant-baseline="central" fill="#161616" transform="translate(221 188) rotate(-15) scale(0.84 1)">3040</text>
<text x="0" y="0" font-size="14" font-weight="bold" text-anchor="middle" dominant-baseline="central" fill="#161616" transform="translate(219 209.6) rotate(0) scale(0.84 1)">2980</text>
<text x="0" y="0" font-size="14" font-weight="bold" text-anchor="middle" dominant-baseline="central" fill="#161616" transform="translate(188 225) rotate(10) scale(0.84 1)">2920</text>
<text x="0" y="0" font-size="14" font-weight="bold" text-anchor="middle" dominant-baseline="central" fill="#161616" transform="translate(103 252) rotate(0) scale(0.84 1)">2920</text>
<text x="0" y="0" font-size="14" font-weight="bold" text-anchor="middle" dominant-baseline="central" fill="#161616" transform="translate(151.5 271) rotate(0) scale(0.84 1)">2920</text>
<text x="0" y="0" font-size="14" font-weight="bold" text-anchor="middle" dominant-baseline="central" fill="#161616" transform="translate(247 278.6) rotate(0) scale(0.84 1)">2920</text>
<text x="0" y="0" font-size="14" font-weight="bold" text-anchor="middle" dominant-baseline="central" fill="#161616" transform="translate(198 296) rotate(-4) scale(0.84 1)">2920</text>
<text x="0" y="0" font-size="14" font-weight="bold" text-anchor="middle" dominant-baseline="central" fill="#161616" transform="translate(197.6 308) rotate(-3) scale(0.84 1)">2980</text>
<text x="0" y="0" font-size="14" font-weight="bold" text-anchor="middle" dominant-baseline="central" fill="#161616" transform="translate(197.6 334) rotate(0) scale(0.84 1)">3040</text>
<text x="0" y="0" font-size="14" font-weight="bold" text-anchor="middle" dominant-baseline="central" fill="#161616" transform="translate(102 305) rotate(0) scale(0.84 1)">2920</text>
<text x="0" y="0" font-size="14" font-weight="bold" text-anchor="middle" dominant-baseline="central" fill="#161616" transform="translate(102 314) rotate(0) scale(0.84 1)">2980</text>
<text x="0" y="0" font-size="14" font-weight="bold" text-anchor="middle" dominant-baseline="central" fill="#161616" transform="translate(101.5 339.5) rotate(0) scale(0.84 1)">3040</text>
<text x="0" y="0" font-size="14" font-weight="bold" text-anchor="middle" dominant-baseline="central" fill="#161616" transform="translate(264 254) rotate(-15) scale(0.84 1)">2980</text>
<text x="0" y="0" font-size="14" font-weight="bold" text-anchor="middle" dominant-baseline="central" fill="#161616" transform="translate(294 297) rotate(0) scale(0.84 1)">2980</text>
<text x="0" y="0" font-size="14" font-weight="bold" text-anchor="middle" dominant-baseline="central" fill="#161616" transform="translate(294 326) rotate(0) scale(0.84 1)">3040</text>
<text x="0" y="0" font-size="14" font-weight="bold" text-anchor="middle" dominant-baseline="central" fill="#161616" transform="translate(335.7 267) rotate(0) scale(0.84 1)">2980</text>
<text x="0" y="0" font-size="14" font-weight="bold" text-anchor="middle" dominant-baseline="central" fill="#161616" transform="translate(390.8 284) rotate(-10) scale(0.84 1)">2980</text>
<text x="0" y="0" font-size="14" font-weight="bold" text-anchor="middle" dominant-baseline="central" fill="#161616" transform="translate(390.8 317.5) rotate(0) scale(0.84 1)">3040</text>
<rect x="477" y="83.6" width="16.399999999999977" height="37.400000000000006" fill="#ebe270"/>
<rect x="477" y="121" width="16.399999999999977" height="37.5" fill="#f2ec9a"/>
<rect x="477" y="158.5" width="16.399999999999977" height="37.5" fill="#faf7c6"/>
<rect x="477" y="196" width="16.399999999999977" height="38" fill="#a7abd9"/>
<rect x="477" y="234" width="16.399999999999977" height="37.30000000000001" fill="#c9cbe6"/>
<rect x="477" y="271.3" width="16.399999999999977" height="37.69999999999999" fill="#e4e6f3"/>
<rect x="477" y="309" width="16.399999999999977" height="37.60000000000002" fill="#ffffff"/>
<path d="M477,121H494.9" stroke="#6e6e50" stroke-width="0.9"/>
<path d="M477,158.5H494.9" stroke="#6e6e50" stroke-width="0.9"/>
<path d="M477,196H494.9" stroke="#6e6e50" stroke-width="0.9"/>
<path d="M477,234H494.9" stroke="#6e6e50" stroke-width="0.9"/>
<path d="M477,271.3H494.9" stroke="#6e6e50" stroke-width="0.9"/>
<path d="M477,309H494.9" stroke="#6e6e50" stroke-width="0.9"/>
<rect x="477" y="83.6" width="16.399999999999977" height="263.0" fill="none" stroke="#777" stroke-width="0.9"/>
<text x="495.5" y="125.2" font-size="12" fill="#222">1.2</text>
<text x="495.5" y="162.7" font-size="12" fill="#222">0.6</text>
<text x="495.5" y="200.2" font-size="12" fill="#222">0</text>
<text x="495.5" y="238.2" font-size="12" fill="#222">-0.6</text>
<text x="495.5" y="275.5" font-size="12" fill="#222">-1.2</text>
<text x="495.5" y="313.2" font-size="12" fill="#222">-1.8</text>
<text x="495.5" y="350.8" font-size="12" fill="#222">-2.4</text>
<text transform="translate(541,283.5) rotate(-90)" font-size="14.7" fill="#222">Omega (Pa s<tspan font-size="9.5" dy="-5.5" dx="1">-1</tspan><tspan dy="5.5" dx="1.5">)</tspan></text>
<rect x="53" y="415.7" width="406" height="103.69999999999999" fill="#fff"/>
<rect x="53" y="512.7" width="50" height="6.699999999999932" fill="url(#wg)"/>
<path d="M98.5,519.3 L99.4,515.3 L102.0,508.2 L104.7,495.9 L106.5,487.0 L108.2,483.5 L110.0,480.9 L110.9,487.0 L111.8,501.2 L112.6,506.5 L113.5,497.6 L115.3,483.5 L117.0,469.4 L118.8,462.4 L120.6,460.2 L121.5,465.9 L123.2,468.5 L125.0,474.7 L125.9,471.2 L126.8,455.3 L127.6,427.0 L128.5,437.6 L129.4,451.8 L130.3,450.0 L131.2,464.1 L132.0,476.5 L133.8,476.5 L134.7,455.3 L135.6,437.6 L137.0,433.2 L138.2,441.2 L139.1,455.3 L140.5,469.4 L141.8,465.9 L143.0,463.2 L144.4,467.6 L145.3,472.9 L146.5,478.2 L147.9,476.5 L149.7,477.4 L150.5,479.0 L151.5,479.0 L152.9,471.8 L154.4,465.3 L155.8,465.3 L158.0,470.4 L159.5,473.3 L160.5,471.8 L162.4,479.1 L163.8,486.4 L165.3,487.1 L166.3,485.6 L167.5,489.3 L168.9,492.9 L171.1,492.2 L173.3,487.8 L174.7,488.5 L176.9,491.5 L179.1,492.9 L182.0,494.4 L184.9,495.1 L187.1,490.7 L189.3,481.3 L190.7,483.5 L192.9,487.1 L194.4,493.6 L196.5,496.5 L198.0,498.0 L199.5,495.1 L200.9,486.4 L201.9,484.9 L203.1,489.3 L204.1,496.5 L206.0,497.3 L208.2,496.5 L209.6,498.0 L211.8,495.1 L214.7,492.9 L216.9,489.3 L218.1,488.5 L219.8,491.5 L222.0,495.1 L224.2,498.7 L227.1,499.3 L229.3,498.0 L231.0,496.4 L234.0,497.6 L237.0,497.0 L241.0,498.4 L244.0,500.0 L246.0,501.0 L248.0,500.0 L250.0,502.0 L257.0,501.6 L265.0,500.0 L273.0,499.0 L279.0,499.0 L289.0,499.6 L295.0,500.4 L301.0,502.4 L309.0,505.0 L317.0,506.4 L325.0,507.0 L335.0,507.0 L341.8,507.0 L353.6,507.3 L365.5,507.5 L377.3,508.2 L384.4,508.9 L388.0,508.0 L391.0,507.7 L393.8,508.9 L401.0,510.6 L408.0,512.0 L412.7,512.7 L424.6,512.7 L436.4,512.5 L448.2,512.2 L455.3,511.7 L459.0,511.3 L459.0,519.4 L98.5,519.4Z" fill="url(#tg)" stroke="#7a3030" stroke-width="0.6"/>
<path d="M61.5,519.3 L63.0,515.0 L64.2,513.3 L66.0,512.5 L68.0,510.0 L69.5,507.5 L71.3,506.5 L72.5,507.5 L73.5,509.0 L75.6,510.0 L77.0,508.5 L78.9,507.6 L80.5,509.0 L81.5,511.0 L82.7,513.0 L85.0,515.5 L88.7,519.3Z" fill="url(#tg)" stroke="#7a3030" stroke-width="0.6"/>
<path d="M131.6,476 L134.2,476 L133.8,478.5 L132,478.5Z" fill="#9fd6e8"/>
<rect x="53" y="516" width="0" height="0"/>
<rect x="53" y="415.7" width="406" height="103.69999999999999" fill="none" stroke="#8a8a8a" stroke-width="1"/>
<path d="M454,512.1H459 M456,501.3H459 M454,490.6H459 M456,479.8H459 M454,469.0H459 M456,458.2H459 M454,447.4H459 M456,436.7H459 M454,425.9H459 M53.0,519.4V525.4 M73.3,519.4V523.4 M93.6,519.4V525.4 M113.9,519.4V523.4 M134.2,519.4V525.4 M154.5,519.4V523.4 M174.8,519.4V525.4 M195.1,519.4V523.4 M215.4,519.4V525.4 M235.7,519.4V523.4 M256.0,519.4V525.4 M276.3,519.4V523.4 M296.6,519.4V525.4 M316.9,519.4V523.4 M337.2,519.4V525.4 M357.5,519.4V523.4 M377.8,519.4V525.4 M398.1,519.4V523.4 M418.4,519.4V525.4 M438.7,519.4V523.4 M459.0,519.4V525.4" stroke="#8a8a8a" stroke-width="1" fill="none"/>
<text x="466.3" y="516.5" font-size="12.4" fill="#4a4a4a">0</text>
<text x="466.3" y="494.9" font-size="12.4" fill="#4a4a4a">500</text>
<text x="466.3" y="473.4" font-size="12.4" fill="#4a4a4a">1000</text>
<text x="466.3" y="451.8" font-size="12.4" fill="#4a4a4a">1500</text>
<text x="466.3" y="430.3" font-size="12.4" fill="#4a4a4a">2000</text>
<text x="0" y="0" font-size="12" text-anchor="middle" fill="#4a4a4a" transform="translate(53.0 540.3) scale(1 1.07)">0</text>
<text x="0" y="0" font-size="12" text-anchor="middle" fill="#4a4a4a" transform="translate(93.6 540.3) scale(1 1.07)">200</text>
<text x="0" y="0" font-size="12" text-anchor="middle" fill="#4a4a4a" transform="translate(134.2 540.3) scale(1 1.07)">400</text>
<text x="0" y="0" font-size="12" text-anchor="middle" fill="#4a4a4a" transform="translate(174.8 540.3) scale(1 1.07)">600</text>
<text x="0" y="0" font-size="12" text-anchor="middle" fill="#4a4a4a" transform="translate(215.4 540.3) scale(1 1.07)">800</text>
<text x="0" y="0" font-size="12" text-anchor="middle" fill="#4a4a4a" transform="translate(256.0 540.3) scale(1 1.07)">1000</text>
<text x="0" y="0" font-size="12" text-anchor="middle" fill="#4a4a4a" transform="translate(296.6 540.3) scale(1 1.07)">1200</text>
<text x="0" y="0" font-size="12" text-anchor="middle" fill="#4a4a4a" transform="translate(337.2 540.3) scale(1 1.07)">1400</text>
<text x="0" y="0" font-size="12" text-anchor="middle" fill="#4a4a4a" transform="translate(377.8 540.3) scale(1 1.07)">1600</text>
<text x="0" y="0" font-size="12" text-anchor="middle" fill="#4a4a4a" transform="translate(418.4 540.3) scale(1 1.07)">1800</text>
<text x="0" y="0" font-size="12" text-anchor="middle" fill="#4a4a4a" transform="translate(459.0 540.3) scale(1 1.07)">2000</text>
<text x="237" y="559" font-size="12.3" text-anchor="middle" fill="#222">Distance (Km)</text>
<text transform="translate(510.8,511.9) rotate(-90)" font-size="13.7" fill="#333">Altitude (m)</text>
<g font-size="9.1" fill="#333">
<text x="136.4" y="427.8">Nahuel Huapi lake</text>
<text x="222.3" y="436.6">Neuquén river</text>
<text x="228" y="466.6">Colorado river</text>
<text x="58" y="475.6">Chiloé Island</text>
<text x="326.1" y="477.8">Cordoba ranges</text>
<text transform="translate(418.8,489.4) rotate(-90)">Sunchales</text>
</g>
<path d="M131.9,420V431" stroke="#d03a3a" stroke-width="1"/><path d="M129.5,430.5 L134.3,430.5 L131.9,438Z" fill="#d03a3a"/>
<path d="M222.3,443V455" stroke="#d03a3a" stroke-width="1"/><path d="M219.9,454.5 L224.70000000000002,454.5 L222.3,462Z" fill="#d03a3a"/>
<path d="M228.8,472V483.6" stroke="#d03a3a" stroke-width="1"/><path d="M226.4,483.1 L231.20000000000002,483.1 L228.8,490.6Z" fill="#d03a3a"/>
<path d="M74,481V493.2" stroke="#d03a3a" stroke-width="1"/><path d="M71.6,492.7 L76.4,492.7 L74,500.2Z" fill="#d03a3a"/>
<path d="M389.4,485.5V497" stroke="#d03a3a" stroke-width="1"/><path d="M387.0,496.5 L391.79999999999995,496.5 L389.4,504Z" fill="#d03a3a"/>
<path d="M424.6,28.6 L425.9,512.7" stroke="#d42f25" stroke-width="2.8"/>
</svg></body></html>
